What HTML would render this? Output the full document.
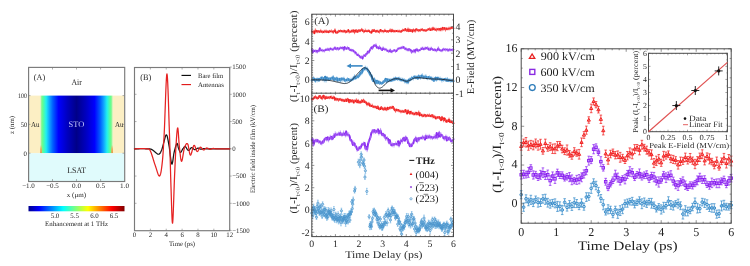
<!DOCTYPE html><html><head><meta charset="utf-8"><style>html,body{margin:0;padding:0;background:#fff;overflow:hidden;}svg{display:block;will-change:transform;}text{font-family:"Liberation Serif", serif;text-rendering:geometricPrecision;}</style></head><body>
<svg width="750" height="266" viewBox="0 0 750 266">
<defs>
<linearGradient id="heat" x1="0" x2="1" y1="0" y2="0"><stop offset="0.000" stop-color="#b8f0a0"/><stop offset="0.030" stop-color="#60ff90"/><stop offset="0.078" stop-color="#20f0f0"/><stop offset="0.125" stop-color="#10a0ff"/><stop offset="0.170" stop-color="#0060ff"/><stop offset="0.250" stop-color="#0000ff"/><stop offset="0.370" stop-color="#0000c0"/><stop offset="0.500" stop-color="#000088"/><stop offset="0.630" stop-color="#0000c0"/><stop offset="0.750" stop-color="#0000ff"/><stop offset="0.830" stop-color="#0060ff"/><stop offset="0.875" stop-color="#10a0ff"/><stop offset="0.922" stop-color="#20f0f0"/><stop offset="0.970" stop-color="#60ff90"/><stop offset="1.000" stop-color="#b8f0a0"/></linearGradient>
<linearGradient id="jet" x1="0" x2="1" y1="0" y2="0">
<stop offset="0" stop-color="#00008f"/><stop offset="0.11" stop-color="#0000ff"/><stop offset="0.36" stop-color="#00ffff"/>
<stop offset="0.62" stop-color="#ffff00"/><stop offset="0.87" stop-color="#ff0000"/><stop offset="1" stop-color="#800000"/>
</linearGradient>
</defs>
<rect x="28.5" y="95.6" width="12" height="57.6" fill="#fcefc4"/>
<rect x="112.6" y="95.6" width="12" height="57.6" fill="#fcefc4"/>
<rect x="40.5" y="95.6" width="72.1" height="57.6" fill="url(#heat)"/>
<linearGradient id="org" x1="0" x2="0" y1="0" y2="1"><stop offset="0" stop-color="#f0a050" stop-opacity="0"/><stop offset="0.5" stop-color="#f0a050" stop-opacity="0.9"/><stop offset="1" stop-color="#e89040"/></linearGradient>
<rect x="40.2" y="145" width="1.6" height="8.2" fill="url(#org)"/>
<rect x="111.3" y="145" width="1.6" height="8.2" fill="url(#org)"/>
<rect x="28.5" y="153.2" width="96" height="28.3" fill="#e0fbfc"/>
<rect x="28.6" y="67.4" width="96.1" height="114.1" fill="none" stroke="#7a7a7a" stroke-width="1.15"/>
<line x1="52.5" y1="67.5" x2="52.5" y2="69.5" stroke="#7a7a7a" stroke-width="0.6"/>
<line x1="52.5" y1="181" x2="52.5" y2="179" stroke="#7a7a7a" stroke-width="0.6"/>
<line x1="76.5" y1="67.5" x2="76.5" y2="69.5" stroke="#7a7a7a" stroke-width="0.6"/>
<line x1="76.5" y1="181" x2="76.5" y2="179" stroke="#7a7a7a" stroke-width="0.6"/>
<line x1="100.6" y1="67.5" x2="100.6" y2="69.5" stroke="#7a7a7a" stroke-width="0.6"/>
<line x1="100.6" y1="181" x2="100.6" y2="179" stroke="#7a7a7a" stroke-width="0.6"/>
<line x1="28.5" y1="95.6" x2="30.5" y2="95.6" stroke="#7a7a7a" stroke-width="0.6"/>
<line x1="124.5" y1="95.6" x2="122.5" y2="95.6" stroke="#7a7a7a" stroke-width="0.6"/>
<line x1="28.5" y1="124.4" x2="30.5" y2="124.4" stroke="#7a7a7a" stroke-width="0.6"/>
<line x1="124.5" y1="124.4" x2="122.5" y2="124.4" stroke="#7a7a7a" stroke-width="0.6"/>
<line x1="28.5" y1="153.2" x2="30.5" y2="153.2" stroke="#7a7a7a" stroke-width="0.6"/>
<line x1="124.5" y1="153.2" x2="122.5" y2="153.2" stroke="#7a7a7a" stroke-width="0.6"/>
<text x="39.5" y="79.8" font-size="8.5" text-anchor="middle" fill="#262626" textLength="11.3" lengthAdjust="spacingAndGlyphs" >(A)</text>
<text x="76.6" y="85.2" font-size="8.5" text-anchor="middle" fill="#262626" textLength="10.4" lengthAdjust="spacingAndGlyphs" >Air</text>
<text x="76.4" y="127.2" font-size="8.5" text-anchor="middle" fill="#c4c8ff" textLength="15.6" lengthAdjust="spacingAndGlyphs" >STO</text>
<text x="35.2" y="127" font-size="7.5" text-anchor="middle" fill="#262626" textLength="8.5" lengthAdjust="spacingAndGlyphs" >Au</text>
<text x="119.2" y="127" font-size="7.5" text-anchor="middle" fill="#262626" textLength="8.5" lengthAdjust="spacingAndGlyphs" >Au</text>
<text x="76.7" y="173.4" font-size="8.5" text-anchor="middle" fill="#262626" textLength="18.8" lengthAdjust="spacingAndGlyphs" >LSAT</text>
<text x="26.9" y="97.9" font-size="6.8" text-anchor="end" fill="#262626" textLength="9.0" lengthAdjust="spacingAndGlyphs" >100</text>
<text x="27.3" y="126.6" font-size="6.8" text-anchor="end" fill="#262626" textLength="6.6" lengthAdjust="spacingAndGlyphs" >50</text>
<text x="26.9" y="155.5" font-size="6.8" text-anchor="end" fill="#262626" >0</text>
<text x="14.2" y="125" font-size="6.8" text-anchor="middle" fill="#262626" textLength="18" lengthAdjust="spacingAndGlyphs" transform="rotate(-90 14.2 125)" >z (nm)</text>
<text x="28.5" y="188.4" font-size="6.8" text-anchor="middle" fill="#262626" textLength="12.7" lengthAdjust="spacingAndGlyphs" >−1.0</text>
<text x="52.5" y="188.4" font-size="6.8" text-anchor="middle" fill="#262626" textLength="12.7" lengthAdjust="spacingAndGlyphs" >−0.5</text>
<text x="76.5" y="188.4" font-size="6.8" text-anchor="middle" fill="#262626" textLength="9" lengthAdjust="spacingAndGlyphs" >0.0</text>
<text x="100.6" y="188.4" font-size="6.8" text-anchor="middle" fill="#262626" textLength="9" lengthAdjust="spacingAndGlyphs" >0.5</text>
<text x="124.6" y="188.4" font-size="6.8" text-anchor="middle" fill="#262626" textLength="9" lengthAdjust="spacingAndGlyphs" >1.0</text>
<text x="76.4" y="196.5" font-size="6.8" text-anchor="middle" fill="#262626" textLength="19.4" lengthAdjust="spacingAndGlyphs" >x (μm)</text>
<rect x="28.5" y="206" width="96" height="5.3" fill="url(#jet)"/>
<text x="55" y="217.8" font-size="6.8" text-anchor="middle" fill="#262626" textLength="8.6" lengthAdjust="spacingAndGlyphs" >5.0</text>
<text x="74.6" y="217.8" font-size="6.8" text-anchor="middle" fill="#262626" textLength="8.6" lengthAdjust="spacingAndGlyphs" >5.5</text>
<text x="94.5" y="217.8" font-size="6.8" text-anchor="middle" fill="#262626" textLength="8.6" lengthAdjust="spacingAndGlyphs" >6.0</text>
<text x="114" y="217.8" font-size="6.8" text-anchor="middle" fill="#262626" textLength="8.6" lengthAdjust="spacingAndGlyphs" >6.5</text>
<text x="76.6" y="225.8" font-size="6.8" text-anchor="middle" fill="#262626" textLength="63" lengthAdjust="spacingAndGlyphs" >Enhancement at 1 THz</text>
<rect x="134.5" y="67.5" width="95.2" height="163.2" fill="none" stroke="#7a7a7a" stroke-width="1.15"/>
<line x1="134.50" y1="230.7" x2="134.50" y2="228.7" stroke="#7a7a7a" stroke-width="0.6"/>
<line x1="134.50" y1="67.5" x2="134.50" y2="69.5" stroke="#7a7a7a" stroke-width="0.6"/>
<text x="134.5" y="237.2" font-size="6.8" text-anchor="middle" fill="#262626" >0</text>
<line x1="150.37" y1="230.7" x2="150.37" y2="228.7" stroke="#7a7a7a" stroke-width="0.6"/>
<line x1="150.37" y1="67.5" x2="150.37" y2="69.5" stroke="#7a7a7a" stroke-width="0.6"/>
<text x="150.37" y="237.2" font-size="6.8" text-anchor="middle" fill="#262626" >2</text>
<line x1="166.23" y1="230.7" x2="166.23" y2="228.7" stroke="#7a7a7a" stroke-width="0.6"/>
<line x1="166.23" y1="67.5" x2="166.23" y2="69.5" stroke="#7a7a7a" stroke-width="0.6"/>
<text x="166.23" y="237.2" font-size="6.8" text-anchor="middle" fill="#262626" >4</text>
<line x1="182.10" y1="230.7" x2="182.10" y2="228.7" stroke="#7a7a7a" stroke-width="0.6"/>
<line x1="182.10" y1="67.5" x2="182.10" y2="69.5" stroke="#7a7a7a" stroke-width="0.6"/>
<text x="182.1" y="237.2" font-size="6.8" text-anchor="middle" fill="#262626" >6</text>
<line x1="197.97" y1="230.7" x2="197.97" y2="228.7" stroke="#7a7a7a" stroke-width="0.6"/>
<line x1="197.97" y1="67.5" x2="197.97" y2="69.5" stroke="#7a7a7a" stroke-width="0.6"/>
<text x="197.97" y="237.2" font-size="6.8" text-anchor="middle" fill="#262626" >8</text>
<line x1="213.83" y1="230.7" x2="213.83" y2="228.7" stroke="#7a7a7a" stroke-width="0.6"/>
<line x1="213.83" y1="67.5" x2="213.83" y2="69.5" stroke="#7a7a7a" stroke-width="0.6"/>
<text x="213.83" y="237.2" font-size="6.8" text-anchor="middle" fill="#262626" >10</text>
<line x1="229.70" y1="230.7" x2="229.70" y2="228.7" stroke="#7a7a7a" stroke-width="0.6"/>
<line x1="229.70" y1="67.5" x2="229.70" y2="69.5" stroke="#7a7a7a" stroke-width="0.6"/>
<text x="229.7" y="237.2" font-size="6.8" text-anchor="middle" fill="#262626" >12</text>
<line x1="229.7" y1="67.05" x2="231.7" y2="67.05" stroke="#7a7a7a" stroke-width="0.6"/>
<text x="232.2" y="69.35" font-size="6.8" text-anchor="start" fill="#262626" >1500</text>
<line x1="229.7" y1="94.30" x2="231.7" y2="94.30" stroke="#7a7a7a" stroke-width="0.6"/>
<line x1="134.5" y1="94.30" x2="136.5" y2="94.30" stroke="#7a7a7a" stroke-width="0.6"/>
<text x="232.2" y="96.6" font-size="6.8" text-anchor="start" fill="#262626" >1000</text>
<line x1="229.7" y1="121.55" x2="231.7" y2="121.55" stroke="#7a7a7a" stroke-width="0.6"/>
<line x1="134.5" y1="121.55" x2="136.5" y2="121.55" stroke="#7a7a7a" stroke-width="0.6"/>
<text x="232.2" y="123.85" font-size="6.8" text-anchor="start" fill="#262626" >500</text>
<line x1="229.7" y1="148.80" x2="231.7" y2="148.80" stroke="#7a7a7a" stroke-width="0.6"/>
<line x1="134.5" y1="148.80" x2="136.5" y2="148.80" stroke="#7a7a7a" stroke-width="0.6"/>
<text x="232.2" y="151.1" font-size="6.8" text-anchor="start" fill="#262626" >0</text>
<line x1="229.7" y1="176.05" x2="231.7" y2="176.05" stroke="#7a7a7a" stroke-width="0.6"/>
<line x1="134.5" y1="176.05" x2="136.5" y2="176.05" stroke="#7a7a7a" stroke-width="0.6"/>
<text x="232.2" y="178.35" font-size="6.8" text-anchor="start" fill="#262626" >−500</text>
<line x1="229.7" y1="203.30" x2="231.7" y2="203.30" stroke="#7a7a7a" stroke-width="0.6"/>
<line x1="134.5" y1="203.30" x2="136.5" y2="203.30" stroke="#7a7a7a" stroke-width="0.6"/>
<text x="232.2" y="205.6" font-size="6.8" text-anchor="start" fill="#262626" >−1000</text>
<line x1="229.7" y1="230.55" x2="231.7" y2="230.55" stroke="#7a7a7a" stroke-width="0.6"/>
<text x="232.2" y="232.85" font-size="6.8" text-anchor="start" fill="#262626" >−1500</text>
<text x="182" y="245.6" font-size="6.8" text-anchor="middle" fill="#262626" textLength="26" lengthAdjust="spacingAndGlyphs" >Time (ps)</text>
<text x="255.3" y="149" font-size="6.8" text-anchor="middle" fill="#262626" textLength="88" lengthAdjust="spacingAndGlyphs" transform="rotate(-90 255.3 149)" >Electric field inside film (kV/cm)</text>
<text x="145.8" y="79.8" font-size="8.5" text-anchor="middle" fill="#262626" textLength="11" lengthAdjust="spacingAndGlyphs" >(B)</text>
<line x1="181.5" y1="75.4" x2="191" y2="75.4" stroke="#000" stroke-width="1.1"/>
<line x1="181.5" y1="84.6" x2="191" y2="84.6" stroke="#e01010" stroke-width="1.1"/>
<text x="198" y="78" font-size="6.8" text-anchor="start" fill="#262626" textLength="25.2" lengthAdjust="spacingAndGlyphs" >Bare film</text>
<text x="198" y="87.2" font-size="6.8" text-anchor="start" fill="#262626" textLength="25.8" lengthAdjust="spacingAndGlyphs" >Antennas</text>
<polyline points="134.50,148.80 135.24,148.80 136.22,148.79 137.40,148.77 138.71,148.76 140.10,148.75 141.53,148.74 142.92,148.74 144.24,148.75 145.41,148.77 146.40,148.80 147.21,148.83 147.90,148.85 148.51,148.86 149.04,148.89 149.52,148.92 149.98,148.98 150.43,149.07 150.89,149.20 151.39,149.38 151.95,149.62 152.57,149.96 153.22,150.44 153.90,150.99 154.59,151.60 155.28,152.22 155.95,152.82 156.60,153.36 157.22,153.80 157.79,154.11 158.30,154.25 158.75,154.23 159.15,154.10 159.51,153.86 159.84,153.54 160.13,153.14 160.41,152.68 160.68,152.17 160.94,151.61 161.20,151.03 161.47,150.44 161.74,149.79 162.00,149.07 162.24,148.28 162.47,147.44 162.70,146.58 162.92,145.69 163.15,144.80 163.37,143.92 163.61,143.07 163.85,142.26 164.11,141.40 164.36,140.43 164.62,139.39 164.89,138.35 165.15,137.34 165.42,136.44 165.68,135.67 165.95,135.11 166.21,134.80 166.47,134.79 166.73,135.09 166.98,135.65 167.23,136.43 167.48,137.40 167.73,138.53 167.98,139.80 168.23,141.16 168.49,142.59 168.75,144.06 169.01,145.53 169.28,147.21 169.56,149.23 169.84,151.49 170.12,153.87 170.41,156.25 170.69,158.51 170.98,160.54 171.25,162.23 171.52,163.46 171.79,164.11 172.04,164.13 172.28,163.61 172.52,162.64 172.75,161.33 172.98,159.79 173.21,158.11 173.44,156.39 173.67,154.75 173.91,153.27 174.17,152.07 174.43,151.01 174.72,149.92 175.01,148.83 175.31,147.76 175.60,146.74 175.90,145.81 176.19,144.99 176.46,144.32 176.71,143.81 176.94,143.51 177.15,143.45 177.33,143.62 177.49,143.98 177.64,144.48 177.79,145.09 177.92,145.76 178.06,146.46 178.21,147.13 178.36,147.75 178.53,148.26 178.71,148.73 178.89,149.25 179.08,149.79 179.28,150.33 179.47,150.85 179.67,151.33 179.88,151.74 180.08,152.07 180.30,152.30 180.51,152.40 180.74,152.34 180.96,152.15 181.20,151.84 181.44,151.45 181.68,150.99 181.92,150.51 182.17,150.02 182.41,149.55 182.65,149.14 182.89,148.80 183.13,148.50 183.36,148.18 183.58,147.85 183.81,147.54 184.03,147.25 184.26,146.99 184.50,146.79 184.75,146.65 185.00,146.59 185.27,146.62 185.56,146.79 185.86,147.11 186.17,147.53 186.49,148.03 186.81,148.57 187.14,149.10 187.47,149.59 187.80,150.00 188.13,150.30 188.45,150.44 188.76,150.40 189.08,150.22 189.40,149.92 189.72,149.54 190.03,149.13 190.35,148.70 190.67,148.30 190.99,147.96 191.30,147.72 191.62,147.60 191.94,147.63 192.25,147.76 192.57,147.98 192.89,148.25 193.21,148.55 193.52,148.87 193.84,149.16 194.16,149.41 194.48,149.59 194.79,149.67 195.11,149.65 195.43,149.56 195.75,149.40 196.06,149.20 196.38,148.97 196.70,148.74 197.01,148.52 197.33,148.34 197.65,148.21 197.97,148.15 198.28,148.16 198.60,148.23 198.92,148.34 199.24,148.48 199.55,148.64 199.87,148.80 200.19,148.96 200.51,149.09 200.82,149.19 201.14,149.24 201.46,149.23 201.77,149.19 202.09,149.12 202.41,149.04 202.73,148.93 203.04,148.83 203.36,148.72 203.68,148.64 204.00,148.57 204.31,148.53 204.54,148.52 204.64,148.52 204.67,148.55 204.67,148.58 204.71,148.62 204.85,148.66 205.14,148.71 205.63,148.75 206.40,148.78 207.49,148.80 209.04,148.81 211.07,148.82 213.45,148.82 216.07,148.82 218.79,148.82 221.50,148.81 224.07,148.81 226.37,148.80 228.29,148.80 229.70,148.80" fill="none" stroke="#151515" stroke-width="1.25" stroke-linejoin="round" stroke-linecap="round" />
<polyline points="134.50,148.80 135.24,148.79 136.25,148.77 137.45,148.73 138.78,148.70 140.20,148.66 141.64,148.64 143.04,148.64 144.34,148.66 145.48,148.71 146.40,148.80 147.11,148.88 147.69,148.90 148.15,148.92 148.52,148.94 148.83,149.00 149.10,149.14 149.37,149.38 149.65,149.74 149.97,150.27 150.37,150.98 150.81,151.93 151.27,153.10 151.75,154.45 152.23,155.94 152.72,157.52 153.21,159.14 153.70,160.76 154.19,162.33 154.66,163.81 155.13,165.15 155.59,166.48 156.05,167.93 156.51,169.43 156.98,170.92 157.43,172.34 157.88,173.61 158.31,174.69 158.73,175.49 159.12,175.97 159.49,176.05 159.84,175.75 160.16,175.16 160.46,174.28 160.75,173.15 161.03,171.79 161.29,170.23 161.54,168.49 161.79,166.59 162.03,164.56 162.27,162.43 162.49,160.22 162.70,157.93 162.90,155.53 163.08,152.98 163.26,150.24 163.44,147.28 163.63,144.06 163.82,140.53 164.03,136.68 164.25,132.45 164.49,127.23 164.75,120.70 165.01,113.30 165.29,105.47 165.57,97.65 165.85,90.27 166.13,83.77 166.41,78.59 166.68,75.16 166.95,73.92 167.21,75.05 167.47,78.20 167.73,83.00 167.99,89.10 168.25,96.12 168.50,103.71 168.74,111.50 168.97,119.13 169.20,126.23 169.41,132.45 169.60,138.15 169.78,143.90 169.95,149.67 170.10,155.42 170.25,161.09 170.40,166.66 170.54,172.07 170.69,177.28 170.84,182.26 170.99,186.95 171.15,191.69 171.30,196.70 171.46,201.79 171.61,206.76 171.76,211.42 171.92,215.58 172.07,219.02 172.24,221.57 172.41,223.03 172.58,223.19 172.76,221.79 172.96,218.87 173.16,214.72 173.36,209.65 173.57,203.93 173.78,197.87 173.98,191.76 174.19,185.89 174.38,180.55 174.56,176.05 174.74,172.12 174.91,168.31 175.07,164.63 175.23,161.10 175.38,157.72 175.53,154.49 175.69,151.44 175.84,148.55 175.99,145.86 176.15,143.35 176.31,140.96 176.47,138.62 176.63,136.40 176.78,134.33 176.94,132.46 177.10,130.85 177.26,129.54 177.42,128.59 177.58,128.03 177.74,127.93 177.89,128.39 178.04,129.45 178.19,130.99 178.34,132.91 178.49,135.08 178.64,137.41 178.80,139.79 178.97,142.09 179.14,144.23 179.32,146.08 179.52,147.85 179.72,149.77 179.92,151.78 180.13,153.77 180.35,155.69 180.57,157.45 180.81,158.97 181.04,160.18 181.29,160.99 181.54,161.34 181.81,161.10 182.08,160.30 182.37,159.06 182.66,157.49 182.95,155.71 183.25,153.84 183.56,151.99 183.87,150.27 184.17,148.81 184.48,147.71 184.79,146.86 185.11,146.08 185.43,145.37 185.75,144.75 186.08,144.25 186.40,143.86 186.72,143.62 187.04,143.53 187.35,143.62 187.65,143.90 187.94,144.51 188.22,145.52 188.49,146.84 188.75,148.34 189.02,149.91 189.28,151.46 189.55,152.87 189.83,154.03 190.12,154.84 190.43,155.18 190.76,154.97 191.10,154.30 191.46,153.26 191.82,151.98 192.19,150.56 192.56,149.12 192.93,147.76 193.30,146.59 193.66,145.74 194.00,145.31 194.33,145.33 194.66,145.69 194.98,146.33 195.30,147.15 195.61,148.07 195.92,149.03 196.23,149.93 196.55,150.70 196.86,151.26 197.17,151.53 197.49,151.48 197.81,151.21 198.13,150.77 198.44,150.20 198.76,149.56 199.08,148.90 199.39,148.28 199.71,147.75 200.03,147.36 200.35,147.17 200.66,147.18 200.98,147.35 201.30,147.64 201.62,148.01 201.93,148.44 202.25,148.87 202.57,149.28 202.89,149.63 203.20,149.88 203.52,150.00 203.84,149.98 204.15,149.85 204.47,149.64 204.79,149.38 205.11,149.08 205.42,148.78 205.74,148.49 206.06,148.25 206.38,148.07 206.69,147.98 207.01,147.99 207.33,148.07 207.65,148.21 207.96,148.39 208.28,148.59 208.60,148.80 208.91,148.99 209.23,149.16 209.55,149.28 209.87,149.34 210.18,149.34 210.50,149.29 210.82,149.21 211.14,149.10 211.45,148.97 211.77,148.84 212.09,148.72 212.41,148.61 212.72,148.52 213.04,148.47 213.31,148.46 213.51,148.47 213.67,148.49 213.81,148.53 213.98,148.58 214.20,148.64 214.50,148.69 214.92,148.74 215.48,148.78 216.21,148.80 217.20,148.81 218.47,148.82 219.93,148.82 221.51,148.82 223.15,148.82 224.78,148.82 226.32,148.81 227.70,148.81 228.85,148.80 229.70,148.80" fill="none" stroke="#e62222" stroke-width="1.25" stroke-linejoin="round" stroke-linecap="round" />
<polyline points="311.80,31.42 312.69,31.90 313.58,31.83 314.47,33.21 315.36,30.34 316.26,30.79 317.15,31.79 318.04,31.05 318.93,31.38 319.82,31.95 320.71,30.92 321.60,31.79 322.49,31.80 323.39,32.12 324.28,31.28 325.17,31.65 326.06,31.22 326.95,32.00 327.84,31.50 328.73,32.19 329.62,31.01 330.52,31.45 331.41,31.35 332.30,31.30 333.19,32.25 334.08,31.03 334.97,30.16 335.86,32.65 336.75,32.70 337.64,32.54 338.54,30.94 339.43,31.40 340.32,30.74 341.21,30.97 342.10,31.29 342.99,31.22 343.88,31.51 344.77,30.78 345.67,32.11 346.56,31.61 347.45,31.14 348.34,30.06 349.23,31.77 350.12,31.96 351.01,31.59 351.90,30.54 352.79,31.33 353.69,30.26 354.58,32.40 355.47,30.36 356.36,30.40 357.25,32.05 358.14,30.97 359.03,30.25 359.92,31.00 360.82,30.38 361.71,29.44 362.60,30.86 363.49,31.23 364.38,31.57 365.27,30.61 366.16,31.18 367.05,31.17 367.95,31.12 368.84,30.62 369.73,31.78 370.62,32.10 371.51,32.71 372.40,30.27 373.29,31.03 374.18,30.06 375.07,31.09 375.97,31.59 376.86,30.77 377.75,31.14 378.64,31.94 379.53,31.69 380.42,29.89 381.31,30.84 382.20,30.79 383.10,31.25 383.99,31.52 384.88,30.44 385.77,31.10 386.66,31.53 387.55,31.10 388.44,31.61 389.33,30.85 390.23,30.20 391.12,31.51 392.01,29.97 392.90,31.37 393.79,30.80 394.68,31.45 395.57,31.01 396.46,30.81 397.35,31.12 398.25,31.28 399.14,31.24 400.03,31.31 400.92,31.80 401.81,30.89 402.70,30.42 403.59,30.05 404.48,30.20 405.38,28.95 406.27,30.37 407.16,30.87 408.05,29.26 408.94,31.21 409.83,29.82 410.72,31.08 411.61,30.17 412.51,31.71 413.40,29.74 414.29,30.42 415.18,30.93 416.07,29.11 416.96,29.69 417.85,30.14 418.74,30.64 419.63,30.13 420.53,30.17 421.42,29.53 422.31,29.44 423.20,30.39 424.09,30.27 424.98,30.22 425.87,30.73 426.76,30.17 427.66,29.79 428.55,29.22 429.44,28.75 430.33,30.14 431.22,29.18 432.11,29.80 433.00,28.05 433.89,29.43 434.78,29.01 435.68,29.93 436.57,29.79 437.46,29.05 438.35,29.40 439.24,28.84 440.13,30.08 441.02,28.52 441.91,29.52 442.81,27.70 443.70,29.00 444.59,28.00 445.48,29.63 446.37,28.34 447.26,29.17 448.15,28.84 449.04,28.44 449.94,28.61 450.83,28.16 451.72,27.78 452.61,27.79 453.50,28.23" fill="none" stroke="#f01c1c" stroke-width="1.8" stroke-linejoin="round" stroke-linecap="round" />
<path d="M311.80 29.76V33.46M313.58 30.03V33.66M315.36 28.29V31.72M317.15 30.42V33.31M318.93 29.98V33.13M320.71 28.88V32.18M322.49 30.19V33.57M324.28 29.68V33.27M326.06 29.39V33.18M327.84 30.27V32.81M329.62 29.83V32.93M331.41 29.31V32.49M333.19 30.37V34.07M334.97 28.17V31.54M336.75 30.90V34.05M338.54 29.74V32.77M340.32 29.58V32.54M342.10 29.90V32.88M343.88 29.53V32.86M345.67 30.54V33.57M347.45 29.84V32.71M349.23 30.48V33.66M351.01 29.88V32.99M352.79 29.28V32.78M354.58 30.64V34.22M356.36 29.03V31.54M358.14 29.00V33.01M359.92 29.72V32.27M361.71 27.91V31.14M363.49 29.16V33.28M365.27 28.54V31.96M367.05 29.48V32.71M368.84 29.28V31.80M370.62 30.82V33.56M372.40 29.06V31.53M374.18 28.90V31.78M375.97 30.00V32.94M377.75 29.52V32.67M379.53 29.93V33.70M381.31 29.38V32.58M383.10 29.92V33.27M384.88 28.73V31.71M386.66 30.17V32.80M388.44 30.31V33.02M390.23 28.29V31.76M392.01 28.58V31.49M393.79 29.42V32.62M395.57 29.84V32.41M397.35 29.69V32.41M399.14 29.41V32.53M400.92 30.39V32.97M402.70 28.57V31.89M404.48 28.45V31.53M406.27 29.23V31.80M408.05 27.40V31.19M409.83 28.36V31.75M411.61 29.00V31.79M413.40 28.37V31.28M415.18 29.60V32.91M416.96 28.28V31.72M418.74 29.41V32.17M420.53 28.63V31.97M422.31 27.99V31.04M424.09 29.08V31.69M425.87 28.91V31.95M427.66 28.23V31.14M429.44 27.47V29.99M431.22 27.28V30.96M433.00 26.57V29.55M434.78 27.19V30.71M436.57 27.79V31.79M438.35 27.81V31.15M440.13 28.44V31.50M441.91 27.97V31.34M443.70 27.35V30.72M445.48 28.04V31.67M447.26 27.31V30.42M449.04 26.54V30.44M450.83 26.26V29.61M452.61 26.31V29.14" stroke="#f86060" stroke-width="0.7" fill="none"/>
<polyline points="311.80,49.47 312.69,52.52 313.58,50.45 314.47,51.06 315.36,50.93 316.26,50.71 317.15,51.88 318.04,50.61 318.93,50.98 319.82,48.09 320.71,50.13 321.60,50.46 322.49,50.34 323.39,50.54 324.28,50.73 325.17,50.22 326.06,49.55 326.95,49.96 327.84,49.07 328.73,49.76 329.62,49.52 330.52,48.40 331.41,48.99 332.30,49.60 333.19,49.29 334.08,48.70 334.97,47.66 335.86,49.06 336.75,48.94 337.64,48.01 338.54,49.19 339.43,48.70 340.32,47.82 341.21,47.92 342.10,48.11 342.99,47.56 343.88,49.75 344.77,47.02 345.67,48.33 346.56,48.92 347.45,47.84 348.34,47.90 349.23,49.12 350.12,50.06 351.01,49.88 351.90,50.53 352.79,50.16 353.69,51.23 354.58,52.21 355.47,52.17 356.36,53.73 357.25,55.01 358.14,54.82 359.03,55.60 359.92,56.78 360.82,57.56 361.71,56.98 362.60,58.59 363.49,55.92 364.38,55.35 365.27,55.93 366.16,53.83 367.05,53.53 367.95,51.37 368.84,52.34 369.73,50.68 370.62,48.57 371.51,47.20 372.40,48.40 373.29,46.41 374.18,45.31 375.07,45.92 375.97,45.20 376.86,47.77 377.75,47.16 378.64,48.43 379.53,47.09 380.42,48.37 381.31,48.91 382.20,50.12 383.10,48.12 383.99,49.03 384.88,49.30 385.77,49.30 386.66,50.08 387.55,50.96 388.44,51.26 389.33,51.40 390.23,50.01 391.12,51.94 392.01,51.31 392.90,51.02 393.79,50.49 394.68,50.05 395.57,51.05 396.46,51.14 397.35,49.73 398.25,48.53 399.14,48.36 400.03,48.22 400.92,48.12 401.81,47.39 402.70,47.63 403.59,47.04 404.48,48.52 405.38,48.45 406.27,49.25 407.16,49.43 408.05,50.17 408.94,48.97 409.83,49.87 410.72,49.93 411.61,52.29 412.51,51.05 413.40,51.09 414.29,50.16 415.18,51.89 416.07,49.39 416.96,49.31 417.85,50.79 418.74,50.47 419.63,50.24 420.53,49.55 421.42,49.03 422.31,47.96 423.20,49.36 424.09,48.61 424.98,48.94 425.87,47.79 426.76,48.43 427.66,48.00 428.55,49.68 429.44,49.17 430.33,49.71 431.22,48.29 432.11,49.01 433.00,49.80 433.89,50.02 434.78,49.47 435.68,50.33 436.57,50.51 437.46,49.57 438.35,48.23 439.24,50.04 440.13,50.23 441.02,50.63 441.91,50.71 442.81,49.43 443.70,49.18 444.59,49.71 445.48,49.46 446.37,49.57 447.26,49.52 448.15,50.60 449.04,49.84 449.94,49.42 450.83,49.99 451.72,49.75 452.61,49.96 453.50,49.63" fill="none" stroke="#8c2cf0" stroke-width="1.8" stroke-linejoin="round" stroke-linecap="round" />
<path d="M311.80 47.45V51.11M313.58 49.32V51.63M315.36 49.41V52.86M317.15 50.53V53.64M318.93 49.47V52.36M320.71 48.33V51.54M322.49 48.87V52.20M324.28 49.14V52.61M326.06 47.94V50.83M327.84 47.52V51.03M329.62 47.86V51.57M331.41 47.87V50.43M333.19 47.43V51.07M334.97 46.01V49.42M336.75 46.98V50.72M338.54 47.55V50.85M340.32 46.06V49.25M342.10 46.35V49.82M343.88 47.87V51.33M345.67 47.19V49.97M347.45 45.90V49.57M349.23 47.38V50.61M351.01 48.42V51.69M352.79 48.97V52.12M354.58 50.25V54.25M356.36 52.48V54.96M358.14 52.84V56.32M359.92 55.40V58.26M361.71 55.23V58.25M363.49 54.34V57.68M365.27 54.12V57.06M367.05 51.63V55.07M368.84 50.80V54.00M370.62 47.18V50.54M372.40 47.08V50.04M374.18 44.03V47.02M375.97 43.21V47.17M377.75 45.92V48.88M379.53 45.11V48.40M381.31 47.39V50.72M383.10 46.29V49.67M384.88 47.57V51.07M386.66 48.62V51.82M388.44 49.58V53.05M390.23 48.40V51.46M392.01 49.78V53.32M393.79 49.19V51.76M395.57 49.92V52.99M397.35 47.66V51.07M399.14 46.98V49.67M400.92 46.43V49.71M402.70 45.72V48.95M404.48 46.56V50.09M406.27 47.36V51.14M408.05 48.17V51.77M409.83 48.17V51.53M411.61 50.98V53.89M413.40 49.08V53.08M415.18 50.75V53.65M416.96 47.88V50.56M418.74 49.22V52.35M420.53 47.51V51.17M422.31 46.47V49.57M424.09 46.69V50.45M425.87 46.61V49.11M427.66 46.04V49.59M429.44 47.41V51.03M431.22 46.56V50.11M433.00 48.16V51.14M434.78 48.17V51.55M436.57 49.38V52.30M438.35 46.26V49.57M440.13 49.07V51.74M441.91 49.28V52.28M443.70 47.65V51.20M445.48 48.22V51.49M447.26 48.35V51.54M449.04 48.40V51.66M450.83 48.87V51.54M452.61 48.19V51.68" stroke="#b078f8" stroke-width="0.7" fill="none"/>
<polyline points="311.80,80.30 312.69,79.86 313.58,78.35 314.47,79.04 315.36,80.72 316.26,79.37 317.15,79.75 318.04,79.07 318.93,80.34 319.82,78.82 320.71,78.74 321.60,77.63 322.49,78.52 323.39,78.30 324.28,79.78 325.17,76.82 326.06,79.98 326.95,77.60 327.84,78.67 328.73,79.06 329.62,78.87 330.52,78.87 331.41,78.08 332.30,78.49 333.19,77.32 334.08,79.94 334.97,78.61 335.86,79.39 336.75,78.20 337.64,80.54 338.54,79.28 339.43,78.97 340.32,80.40 341.21,78.61 342.10,79.35 342.99,78.82 343.88,78.95 344.77,80.52 345.67,80.43 346.56,80.01 347.45,79.30 348.34,79.23 349.23,80.40 350.12,80.23 351.01,80.19 351.90,79.78 352.79,79.23 353.69,78.82 354.58,76.74 355.47,78.27 356.36,77.59 357.25,76.41 358.14,76.82 359.03,75.53 359.92,74.16 360.82,72.35 361.71,72.71 362.60,69.45 363.49,69.77 364.38,68.70 365.27,68.00 366.16,68.46 367.05,68.86 367.95,70.57 368.84,71.93 369.73,72.89 370.62,75.42 371.51,75.70 372.40,79.16 373.29,80.87 374.18,79.20 375.07,81.55 375.97,82.85 376.86,80.85 377.75,82.77 378.64,81.78 379.53,83.15 380.42,82.50 381.31,83.37 382.20,83.31 383.10,82.37 383.99,81.43 384.88,80.48 385.77,78.94 386.66,81.33 387.55,79.48 388.44,80.46 389.33,79.87 390.23,80.68 391.12,80.50 392.01,79.84 392.90,80.06 393.79,79.08 394.68,79.58 395.57,78.07 396.46,78.95 397.35,78.99 398.25,78.33 399.14,78.91 400.03,79.52 400.92,79.84 401.81,80.21 402.70,79.65 403.59,80.24 404.48,80.87 405.38,80.76 406.27,81.89 407.16,81.01 408.05,82.23 408.94,79.60 409.83,79.93 410.72,79.17 411.61,78.22 412.51,78.17 413.40,77.97 414.29,76.60 415.18,77.28 416.07,78.00 416.96,76.92 417.85,78.58 418.74,76.01 419.63,77.46 420.53,77.34 421.42,75.70 422.31,75.86 423.20,77.51 424.09,77.20 424.98,76.94 425.87,76.57 426.76,78.07 427.66,77.95 428.55,77.20 429.44,78.03 430.33,77.73 431.22,77.91 432.11,79.32 433.00,79.18 433.89,80.62 434.78,78.85 435.68,77.69 436.57,79.66 437.46,77.93 438.35,78.20 439.24,79.10 440.13,79.15 441.02,79.18 441.91,80.01 442.81,79.66 443.70,79.59 444.59,79.20 445.48,79.18 446.37,80.48 447.26,79.39 448.15,80.75 449.04,80.40 449.94,80.11 450.83,80.54 451.72,80.75 452.61,80.56 453.50,81.19" fill="none" stroke="#3684c0" stroke-width="2.3" stroke-linejoin="round" stroke-linecap="round" />
<path d="M311.80 78.46V82.04M313.58 76.38V80.66M315.36 78.27V82.88M317.15 77.41V82.32M318.93 78.14V81.84M320.71 76.59V80.17M322.49 76.31V81.12M324.28 77.79V82.30M326.06 78.56V82.54M327.84 77.06V81.07M329.62 77.11V80.74M331.41 76.52V79.52M333.19 75.01V79.61M334.97 77.06V80.76M336.75 76.49V80.67M338.54 77.72V81.39M340.32 77.93V82.45M342.10 77.15V81.72M343.88 76.70V81.34M345.67 78.76V82.92M347.45 77.30V81.80M349.23 78.17V82.69M351.01 77.65V81.72M352.79 76.79V80.98M354.58 74.36V78.41M356.36 75.63V79.15M358.14 74.46V78.58M359.92 72.19V76.51M361.71 70.86V75.17M363.49 67.76V72.30M365.27 65.68V70.60M367.05 66.61V70.64M368.84 69.89V74.46M370.62 72.91V77.12M372.40 77.45V80.86M374.18 77.05V80.83M375.97 80.60V84.63M377.75 80.36V84.46M379.53 80.64V84.95M381.31 81.93V84.97M383.10 79.99V83.98M384.88 78.78V83.07M386.66 79.43V83.50M388.44 78.41V82.42M390.23 78.20V82.12M392.01 77.98V81.78M393.79 76.85V81.35M395.57 76.67V79.59M397.35 77.31V80.79M399.14 76.59V81.20M400.92 77.33V81.72M402.70 77.75V81.22M404.48 78.39V83.34M406.27 79.34V84.17M408.05 79.77V84.31M409.83 77.52V81.72M411.61 75.91V80.53M413.40 75.83V80.38M415.18 75.07V78.98M416.96 75.46V78.71M418.74 74.37V78.49M420.53 75.30V79.62M422.31 73.35V78.21M424.09 74.76V79.28M425.87 74.26V79.12M427.66 76.03V80.20M429.44 75.48V79.72M431.22 76.42V79.89M433.00 76.71V81.20M434.78 77.21V81.44M436.57 77.70V81.59M438.35 76.71V80.11M440.13 76.58V81.08M441.91 77.67V82.52M443.70 78.19V81.82M445.48 77.60V81.19M447.26 76.97V81.22M449.04 78.14V82.15M450.83 78.43V82.82M452.61 78.51V82.35" stroke="#6aaee0" stroke-width="0.7" fill="none"/>
<polyline points="311.80,79.80 312.78,79.82 314.08,79.84 315.63,79.86 317.36,79.89 319.21,79.92 321.11,79.96 322.99,80.02 324.78,80.09 326.43,80.17 327.86,80.28 329.11,80.42 330.28,80.59 331.38,80.77 332.41,80.98 333.38,81.19 334.31,81.41 335.20,81.63 336.07,81.84 336.93,82.04 337.78,82.21 338.61,82.38 339.41,82.57 340.19,82.75 340.93,82.94 341.65,83.11 342.34,83.27 343.00,83.40 343.64,83.49 344.26,83.55 344.86,83.56 345.43,83.53 345.96,83.47 346.45,83.38 346.92,83.26 347.37,83.11 347.81,82.93 348.24,82.72 348.68,82.48 349.12,82.22 349.59,81.92 350.06,81.59 350.53,81.21 351.00,80.80 351.48,80.35 351.95,79.88 352.42,79.40 352.89,78.90 353.37,78.39 353.84,77.89 354.31,77.39 354.79,76.88 355.28,76.34 355.79,75.78 356.29,75.20 356.79,74.63 357.28,74.07 357.76,73.52 358.21,73.00 358.64,72.52 359.03,72.08 359.39,71.69 359.72,71.32 360.02,70.99 360.30,70.67 360.57,70.39 360.82,70.12 361.08,69.86 361.33,69.63 361.59,69.40 361.87,69.19 362.15,68.97 362.42,68.76 362.69,68.55 362.96,68.36 363.23,68.18 363.50,68.04 363.78,67.92 364.07,67.84 364.38,67.81 364.70,67.83 365.04,67.90 365.40,67.99 365.77,68.12 366.16,68.28 366.55,68.49 366.94,68.73 367.33,69.01 367.72,69.34 368.11,69.72 368.48,70.15 368.84,70.64 369.20,71.19 369.56,71.80 369.91,72.46 370.27,73.16 370.62,73.89 370.97,74.63 371.32,75.39 371.67,76.15 372.02,76.91 372.38,77.69 372.73,78.54 373.09,79.42 373.44,80.33 373.79,81.24 374.15,82.13 374.50,82.98 374.86,83.78 375.21,84.49 375.56,85.11 375.92,85.64 376.27,86.11 376.63,86.52 376.98,86.89 377.34,87.20 377.69,87.47 378.04,87.68 378.40,87.86 378.75,88.00 379.11,88.10 379.46,88.15 379.80,88.16 380.13,88.11 380.47,88.02 380.80,87.89 381.15,87.73 381.50,87.52 381.87,87.29 382.25,87.03 382.65,86.75 383.06,86.42 383.48,86.03 383.91,85.58 384.34,85.11 384.79,84.61 385.26,84.10 385.75,83.59 386.26,83.10 386.80,82.63 387.37,82.21 387.99,81.81 388.66,81.40 389.36,80.99 390.09,80.59 390.84,80.21 391.60,79.85 392.35,79.53 393.08,79.24 393.79,79.01 394.46,78.83 395.10,78.72 395.71,78.66 396.32,78.65 396.91,78.68 397.48,78.74 398.06,78.84 398.63,78.94 399.20,79.07 399.78,79.19 400.36,79.32 400.96,79.47 401.56,79.66 402.17,79.90 402.78,80.15 403.39,80.40 403.99,80.65 404.58,80.87 405.16,81.05 405.72,81.18 406.27,81.25 406.78,81.24 407.28,81.18 407.75,81.08 408.21,80.94 408.66,80.78 409.11,80.59 409.56,80.39 410.02,80.19 410.49,79.99 410.99,79.80 411.47,79.60 411.90,79.37 412.31,79.11 412.73,78.84 413.16,78.58 413.64,78.32 414.18,78.09 414.81,77.90 415.55,77.76 416.42,77.68 417.45,77.66 418.63,77.71 419.92,77.80 421.31,77.94 422.75,78.09 424.23,78.26 425.71,78.43 427.17,78.59 428.57,78.73 429.88,78.83 431.14,78.91 432.37,78.96 433.58,79.00 434.77,79.03 435.95,79.06 437.12,79.09 438.27,79.12 439.42,79.17 440.56,79.23 441.69,79.32 442.87,79.43 444.10,79.57 445.36,79.73 446.63,79.90 447.86,80.07 449.04,80.24 450.12,80.41 451.09,80.55 451.91,80.67 452.56,80.77" fill="none" stroke="#1e2a36" stroke-width="0.95" stroke-linejoin="round" stroke-linecap="round" />
<line x1="362.6" y1="65.9" x2="350" y2="65.9" stroke="#3a88c4" stroke-width="1.6"/><polygon points="346.5,65.9 351,63.6 351,68.2" fill="#3a88c4"/>
<line x1="378.6" y1="90.4" x2="391" y2="90.4" stroke="#111" stroke-width="1.6"/><polygon points="395,90.4 390.5,88.1 390.5,92.7" fill="#111"/>
<polyline points="311.80,98.88 312.69,99.27 313.58,98.23 314.47,97.54 315.36,96.81 316.26,97.64 317.15,98.14 318.04,98.26 318.93,96.81 319.82,95.94 320.71,97.08 321.60,98.36 322.49,98.05 323.39,95.71 324.28,96.91 325.17,98.60 326.06,97.11 326.95,98.07 327.84,97.61 328.73,97.54 329.62,97.82 330.52,96.80 331.41,97.49 332.30,98.13 333.19,97.43 334.08,97.26 334.97,99.68 335.86,98.66 336.75,99.51 337.64,98.99 338.54,100.16 339.43,99.15 340.32,99.34 341.21,99.70 342.10,100.47 342.99,99.99 343.88,100.71 344.77,101.04 345.67,99.73 346.56,101.01 347.45,99.06 348.34,99.55 349.23,102.06 350.12,100.13 351.01,101.44 351.90,100.52 352.79,100.61 353.69,102.53 354.58,101.07 355.47,101.21 356.36,100.25 357.25,102.28 358.14,100.70 359.03,102.47 359.92,101.92 360.82,102.52 361.71,100.64 362.60,101.61 363.49,100.16 364.38,102.00 365.27,102.10 366.16,102.46 367.05,104.22 367.95,104.29 368.84,103.57 369.73,105.63 370.62,105.53 371.51,106.05 372.40,105.76 373.29,106.86 374.18,106.88 375.07,106.73 375.97,107.05 376.86,108.09 377.75,106.70 378.64,108.82 379.53,108.89 380.42,109.11 381.31,107.24 382.20,108.55 383.10,109.21 383.99,109.46 384.88,108.15 385.77,109.49 386.66,109.59 387.55,107.68 388.44,108.95 389.33,107.83 390.23,107.39 391.12,107.81 392.01,107.65 392.90,106.70 393.79,108.72 394.68,109.79 395.57,110.71 396.46,109.65 397.35,110.15 398.25,109.93 399.14,110.86 400.03,111.11 400.92,111.54 401.81,111.56 402.70,111.13 403.59,111.79 404.48,111.53 405.38,110.08 406.27,111.50 407.16,113.49 408.05,110.69 408.94,112.07 409.83,113.37 410.72,111.88 411.61,112.82 412.51,113.54 413.40,113.71 414.29,114.19 415.18,113.43 416.07,112.69 416.96,114.10 417.85,113.60 418.74,112.47 419.63,115.40 420.53,114.26 421.42,114.93 422.31,115.77 423.20,115.91 424.09,115.19 424.98,114.96 425.87,116.00 426.76,115.65 427.66,115.24 428.55,115.80 429.44,115.47 430.33,116.02 431.22,116.19 432.11,115.18 433.00,116.44 433.89,117.07 434.78,116.75 435.68,118.39 436.57,118.07 437.46,117.26 438.35,117.60 439.24,116.98 440.13,118.56 441.02,120.08 441.91,117.24 442.81,118.22 443.70,120.36 444.59,118.41 445.48,119.85 446.37,121.74 447.26,120.76 448.15,121.12 449.04,119.53 449.94,121.95 450.83,121.78 451.72,122.11 452.61,122.51 453.50,123.29" fill="none" stroke="#f01c1c" stroke-width="2.0" stroke-linejoin="round" stroke-linecap="round" />
<path d="M311.80 97.67V100.64M313.58 96.54V100.03M315.36 94.88V98.54M317.15 96.38V99.83M318.93 95.00V98.26M320.71 95.33V98.96M322.49 96.67V100.25M324.28 94.96V99.08M326.06 95.62V98.75M327.84 96.15V98.85M329.62 96.61V99.26M331.41 95.42V98.85M333.19 95.53V98.87M334.97 98.42V101.06M336.75 97.63V101.21M338.54 98.41V101.81M340.32 97.87V101.03M342.10 98.34V101.87M343.88 98.78V102.16M345.67 98.34V101.25M347.45 97.78V101.20M349.23 100.50V103.43M351.01 100.25V102.69M352.79 99.20V102.23M354.58 99.27V103.26M356.36 98.15V101.69M358.14 98.88V102.83M359.92 100.62V103.98M361.71 99.05V102.63M363.49 98.64V101.99M365.27 100.39V103.39M367.05 102.25V106.25M368.84 101.89V105.16M370.62 103.37V107.10M372.40 103.67V107.37M374.18 105.31V108.44M375.97 105.80V108.52M377.75 105.27V107.95M379.53 107.15V110.53M381.31 106.03V108.59M383.10 107.09V110.54M384.88 106.58V110.31M386.66 108.29V111.20M388.44 106.94V110.16M390.23 106.13V109.53M392.01 105.76V109.11M393.79 107.04V110.16M395.57 108.61V112.87M397.35 108.89V111.87M399.14 109.48V112.46M400.92 109.60V113.46M402.70 109.75V112.66M404.48 109.90V113.11M406.27 109.62V113.50M408.05 109.16V112.33M409.83 112.12V114.94M411.61 110.66V114.52M413.40 111.95V115.52M415.18 111.66V115.44M416.96 112.65V115.61M418.74 110.38V114.17M420.53 112.09V115.59M422.31 113.78V117.44M424.09 113.51V117.27M425.87 114.67V117.71M427.66 113.79V116.78M429.44 113.45V117.07M431.22 114.20V117.39M433.00 114.23V118.61M434.78 114.87V118.14M436.57 116.21V119.45M438.35 116.03V118.83M440.13 117.30V119.91M441.91 115.87V119.29M443.70 118.92V122.39M445.48 118.65V121.10M447.26 119.51V122.90M449.04 117.51V120.74M450.83 119.64V123.20M452.61 121.05V124.30" stroke="#f86060" stroke-width="0.7" fill="none"/>
<polyline points="311.80,140.02 312.64,139.06 313.48,144.96 314.32,141.85 315.15,140.44 315.99,140.11 316.83,141.15 317.67,140.11 318.51,141.79 319.35,141.48 320.18,141.98 321.02,143.60 321.86,143.18 322.70,141.34 323.54,142.31 324.38,139.44 325.22,138.94 326.05,137.75 326.89,139.65 327.73,137.20 328.57,139.72 329.41,139.08 330.25,137.41 331.08,136.73 331.92,138.90 332.76,138.76 333.60,135.67 334.44,137.01 335.28,133.97 336.12,134.81 336.95,134.69 337.79,134.60 338.63,133.48 339.47,134.70 340.31,132.89 341.15,134.91 341.98,134.40 342.82,134.93 343.66,133.17 344.50,133.90 345.34,135.13 346.18,131.39 347.02,134.74 347.85,134.72 348.69,134.70 349.53,136.02 350.37,140.05 351.21,140.01 352.05,141.89 352.88,145.02 353.72,143.00 354.56,143.64 355.40,146.21 356.24,146.72 357.08,149.41 357.92,149.98 358.75,148.71 359.59,147.18 360.43,148.07 361.27,146.18 362.11,144.27 362.95,144.53 363.78,143.45 364.62,143.01 365.46,148.64 366.30,147.02 367.14,149.48 367.98,144.06 368.82,141.49 369.65,139.43 370.49,137.15 371.33,133.14 372.17,131.79 373.01,130.23 373.85,131.68 374.68,130.04 375.52,132.24 376.36,131.27 377.20,131.43 378.04,129.32 378.88,133.24 379.72,132.13 380.55,130.45 381.39,133.52 382.23,135.06 383.07,133.90 383.91,135.63 384.75,135.13 385.58,138.50 386.42,138.04 387.26,138.41 388.10,138.89 388.94,142.66 389.78,140.09 390.62,143.87 391.45,145.26 392.29,145.02 393.13,143.94 393.97,144.87 394.81,144.01 395.65,143.96 396.48,144.06 397.32,144.54 398.16,141.16 399.00,145.57 399.84,143.69 400.68,140.73 401.52,140.48 402.35,141.20 403.19,138.19 404.03,138.00 404.87,140.74 405.71,137.26 406.55,137.92 407.38,139.42 408.22,143.18 409.06,143.61 409.90,146.31 410.74,145.05 411.58,146.07 412.42,143.77 413.25,143.41 414.09,140.13 414.93,139.25 415.77,137.92 416.61,141.27 417.45,141.29 418.28,138.13 419.12,139.33 419.96,137.94 420.80,138.03 421.64,138.15 422.48,137.14 423.32,137.61 424.15,137.70 424.99,139.50 425.83,135.96 426.67,138.03 427.51,136.63 428.35,137.56 429.18,136.15 430.02,137.47 430.86,137.19 431.70,137.10 432.54,138.03 433.38,137.64 434.22,136.88 435.05,136.64 435.89,137.62 436.73,132.99 437.57,137.32 438.41,136.31 439.25,132.55 440.08,136.67 440.92,134.78 441.76,135.01 442.60,136.34 443.44,138.20 444.28,138.65 445.12,136.91 445.95,136.70 446.79,140.55 447.63,137.90 448.47,139.43 449.31,137.83 450.15,139.28 450.98,141.08 451.82,141.06 452.66,140.81 453.50,139.06" fill="none" stroke="#8c2cf0" stroke-width="2.0" stroke-linejoin="round" stroke-linecap="round" />
<path d="M311.80 137.45V141.71M313.48 143.16V146.74M315.15 138.79V142.75M316.83 138.62V142.82M318.51 140.07V143.77M320.18 140.13V144.25M321.86 141.57V145.39M323.54 140.21V143.93M325.22 136.91V140.89M326.89 138.09V141.53M328.57 137.44V142.29M330.25 134.74V139.80M331.92 136.91V140.56M333.60 133.33V137.86M335.28 131.42V135.77M336.95 132.39V136.28M338.63 131.62V135.50M340.31 130.40V134.79M341.98 132.15V137.11M343.66 130.50V135.24M345.34 133.40V137.38M347.02 132.27V136.95M348.69 132.28V136.43M350.37 138.22V141.72M352.05 140.35V143.94M353.72 140.55V144.94M355.40 143.54V148.12M357.08 147.46V151.95M358.75 146.41V150.86M360.43 146.30V149.65M362.11 142.59V145.95M363.78 141.45V145.34M365.46 146.48V150.44M367.14 147.15V152.14M368.82 138.99V143.69M370.49 135.36V139.62M372.17 129.27V133.38M373.85 129.14V134.31M375.52 130.51V133.94M377.20 129.04V133.50M378.88 131.68V135.48M380.55 127.94V132.84M382.23 133.52V136.58M383.91 133.51V137.93M385.58 135.87V140.87M387.26 136.09V140.98M388.94 140.68V144.35M390.62 142.26V145.79M392.29 142.46V147.18M393.97 143.35V147.48M395.65 141.45V145.50M397.32 142.08V146.24M399.00 144.04V147.54M400.68 138.37V142.54M402.35 139.18V143.73M404.03 136.38V140.28M405.71 135.39V138.81M407.38 136.99V141.74M409.06 141.56V145.67M410.74 143.09V147.38M412.42 142.29V145.38M414.09 138.55V141.73M415.77 135.75V139.91M417.45 138.99V143.42M419.12 136.87V141.68M420.80 136.51V139.61M422.48 134.84V139.69M424.15 135.19V139.29M425.83 133.73V137.62M427.51 134.78V139.17M429.18 133.89V138.67M430.86 134.96V139.80M432.54 136.21V140.10M434.22 134.23V139.31M435.89 136.09V139.36M437.57 135.38V139.60M439.25 130.72V135.08M440.92 132.30V136.78M442.60 134.55V138.10M444.28 136.89V140.74M445.95 134.55V139.30M447.63 135.80V140.07M449.31 136.08V140.54M450.98 139.01V142.74M452.66 138.97V143.20" stroke="#b078f8" stroke-width="0.7" fill="none"/>
<path d="M311.80 210.46V215.67M311.00 210.46h1.6M311.00 215.67h1.6M312.27 207.26V212.42M311.47 207.26h1.6M311.47 212.42h1.6M312.74 212.78V218.82M311.94 212.78h1.6M311.94 218.82h1.6M313.21 205.89V211.35M312.41 205.89h1.6M312.41 211.35h1.6M313.68 204.15V210.12M312.88 204.15h1.6M312.88 210.12h1.6M314.15 209.71V214.60M313.35 209.71h1.6M313.35 214.60h1.6M314.62 206.77V212.10M313.82 206.77h1.6M313.82 212.10h1.6M315.09 207.25V212.81M314.29 207.25h1.6M314.29 212.81h1.6M315.56 209.80V214.37M314.76 209.80h1.6M314.76 214.37h1.6M316.03 210.67V216.50M315.23 210.67h1.6M315.23 216.50h1.6M316.50 215.09V219.46M315.70 215.09h1.6M315.70 219.46h1.6M316.97 204.40V208.72M316.17 204.40h1.6M316.17 208.72h1.6M317.44 208.83V213.47M316.64 208.83h1.6M316.64 213.47h1.6M317.91 200.19V206.14M317.11 200.19h1.6M317.11 206.14h1.6M318.38 205.93V211.07M317.58 205.93h1.6M317.58 211.07h1.6M318.86 208.20V212.29M318.06 208.20h1.6M318.06 212.29h1.6M319.33 210.98V215.46M318.53 210.98h1.6M318.53 215.46h1.6M319.80 204.20V209.56M319.00 204.20h1.6M319.00 209.56h1.6M320.27 210.79V214.94M319.47 210.79h1.6M319.47 214.94h1.6M320.74 204.06V208.82M319.94 204.06h1.6M319.94 208.82h1.6M321.21 210.39V214.90M320.41 210.39h1.6M320.41 214.90h1.6M321.68 208.05V213.71M320.88 208.05h1.6M320.88 213.71h1.6M322.15 214.10V218.45M321.35 214.10h1.6M321.35 218.45h1.6M322.62 201.82V206.71M321.82 201.82h1.6M321.82 206.71h1.6M323.09 209.39V214.47M322.29 209.39h1.6M322.29 214.47h1.6M323.56 209.82V215.98M322.76 209.82h1.6M322.76 215.98h1.6M324.03 206.74V211.71M323.23 206.74h1.6M323.23 211.71h1.6M324.50 212.43V216.76M323.70 212.43h1.6M323.70 216.76h1.6M324.97 206.97V211.98M324.17 206.97h1.6M324.17 211.98h1.6M325.44 213.14V218.03M324.64 213.14h1.6M324.64 218.03h1.6M325.91 207.60V212.97M325.11 207.60h1.6M325.11 212.97h1.6M326.38 213.16V217.46M325.58 213.16h1.6M325.58 217.46h1.6M326.85 215.33V220.35M326.05 215.33h1.6M326.05 220.35h1.6M327.32 211.23V216.80M326.52 211.23h1.6M326.52 216.80h1.6M327.79 214.30V219.28M326.99 214.30h1.6M326.99 219.28h1.6M328.26 207.58V213.85M327.46 207.58h1.6M327.46 213.85h1.6M328.73 210.18V215.05M327.93 210.18h1.6M327.93 215.05h1.6M329.20 208.29V214.39M328.40 208.29h1.6M328.40 214.39h1.6M329.67 210.49V215.29M328.87 210.49h1.6M328.87 215.29h1.6M330.14 212.05V217.01M329.34 212.05h1.6M329.34 217.01h1.6M330.61 210.73V216.42M329.81 210.73h1.6M329.81 216.42h1.6M331.08 207.98V213.27M330.28 207.98h1.6M330.28 213.27h1.6M331.55 211.61V217.85M330.75 211.61h1.6M330.75 217.85h1.6M332.02 213.72V219.84M331.22 213.72h1.6M331.22 219.84h1.6M332.50 215.33V220.02M331.70 215.33h1.6M331.70 220.02h1.6M332.97 213.20V217.97M332.17 213.20h1.6M332.17 217.97h1.6M333.44 214.70V220.25M332.64 214.70h1.6M332.64 220.25h1.6M333.91 206.56V212.46M333.11 206.56h1.6M333.11 212.46h1.6M334.38 217.17V221.44M333.58 217.17h1.6M333.58 221.44h1.6M334.85 216.16V222.34M334.05 216.16h1.6M334.05 222.34h1.6M335.32 214.65V219.50M334.52 214.65h1.6M334.52 219.50h1.6M335.79 212.16V216.51M334.99 212.16h1.6M334.99 216.51h1.6M336.26 215.13V219.76M335.46 215.13h1.6M335.46 219.76h1.6M336.73 216.89V222.80M335.93 216.89h1.6M335.93 222.80h1.6M337.20 217.31V221.92M336.40 217.31h1.6M336.40 221.92h1.6M337.67 216.30V220.58M336.87 216.30h1.6M336.87 220.58h1.6M338.14 211.83V217.27M337.34 211.83h1.6M337.34 217.27h1.6M338.61 217.79V223.98M337.81 217.79h1.6M337.81 223.98h1.6M339.08 215.99V220.74M338.28 215.99h1.6M338.28 220.74h1.6M339.55 217.45V222.68M338.75 217.45h1.6M338.75 222.68h1.6M340.02 214.69V219.63M339.22 214.69h1.6M339.22 219.63h1.6M340.49 213.82V220.08M339.69 213.82h1.6M339.69 220.08h1.6M340.96 219.75V225.82M340.16 219.75h1.6M340.16 225.82h1.6M341.43 208.19V213.36M340.63 208.19h1.6M340.63 213.36h1.6M341.90 214.48V220.83M341.10 214.48h1.6M341.10 220.83h1.6M342.37 217.59V222.12M341.57 217.59h1.6M341.57 222.12h1.6M342.84 218.57V223.58M342.04 218.57h1.6M342.04 223.58h1.6M343.31 216.43V221.79M342.51 216.43h1.6M342.51 221.79h1.6M343.78 215.30V221.14M342.98 215.30h1.6M342.98 221.14h1.6M344.25 213.64V219.33M343.45 213.64h1.6M343.45 219.33h1.6M344.72 215.84V220.84M343.92 215.84h1.6M343.92 220.84h1.6M345.19 213.61V219.86M344.39 213.61h1.6M344.39 219.86h1.6M345.67 219.93V226.29M344.87 219.93h1.6M344.87 226.29h1.6M346.14 217.25V223.29M345.34 217.25h1.6M345.34 223.29h1.6M346.61 218.35V223.44M345.81 218.35h1.6M345.81 223.44h1.6M347.08 214.09V220.06M346.28 214.09h1.6M346.28 220.06h1.6M347.55 213.68V218.32M346.75 213.68h1.6M346.75 218.32h1.6M348.02 219.63V224.05M347.22 219.63h1.6M347.22 224.05h1.6M348.49 215.53V219.71M347.69 215.53h1.6M347.69 219.71h1.6M348.96 211.71V217.63M348.16 211.71h1.6M348.16 217.63h1.6M349.43 210.74V217.08M348.63 210.74h1.6M348.63 217.08h1.6M349.90 217.73V222.44M349.10 217.73h1.6M349.10 222.44h1.6M350.37 211.42V217.15M349.57 211.42h1.6M349.57 217.15h1.6M350.84 209.95V214.58M350.04 209.95h1.6M350.04 214.58h1.6M351.31 209.04V214.89M350.51 209.04h1.6M350.51 214.89h1.6M351.78 199.55V203.95M350.98 199.55h1.6M350.98 203.95h1.6M352.25 206.13V211.38M351.45 206.13h1.6M351.45 211.38h1.6M352.72 200.97V207.29M351.92 200.97h1.6M351.92 207.29h1.6M353.19 197.02V202.67M352.39 197.02h1.6M352.39 202.67h1.6M354.60 188.87V193.07M353.80 188.87h1.6M353.80 193.07h1.6M355.07 186.35V191.10M354.27 186.35h1.6M354.27 191.10h1.6M358.36 159.23V164.98M357.56 159.23h1.6M357.56 164.98h1.6M359.78 162.51V167.73M358.98 162.51h1.6M358.98 167.73h1.6M360.25 157.10V163.11M359.45 157.10h1.6M359.45 163.11h1.6M361.19 151.83V156.90M360.39 151.83h1.6M360.39 156.90h1.6M361.66 154.19V160.02M360.86 154.19h1.6M360.86 160.02h1.6M362.60 160.74V165.31M361.80 160.74h1.6M361.80 165.31h1.6M363.54 161.57V165.88M362.74 161.57h1.6M362.74 165.88h1.6M364.01 158.01V162.07M363.21 158.01h1.6M363.21 162.07h1.6M364.48 163.85V168.54M363.68 163.85h1.6M363.68 168.54h1.6M364.95 174.76V179.50M364.15 174.76h1.6M364.15 179.50h1.6M365.42 168.09V173.37M364.62 168.09h1.6M364.62 173.37h1.6M366.83 188.32V194.48M366.03 188.32h1.6M366.03 194.48h1.6M369.19 214.63V218.88M368.39 214.63h1.6M368.39 218.88h1.6M369.75 223.30V229.66M368.95 223.30h1.6M368.95 229.66h1.6M370.31 221.64V226.78M369.51 221.64h1.6M369.51 226.78h1.6M370.87 222.59V228.79M370.07 222.59h1.6M370.07 228.79h1.6M371.43 223.80V229.52M370.63 223.80h1.6M370.63 229.52h1.6M371.99 219.17V224.71M371.19 219.17h1.6M371.19 224.71h1.6M372.55 216.00V220.68M371.75 216.00h1.6M371.75 220.68h1.6M373.11 208.77V214.56M372.31 208.77h1.6M372.31 214.56h1.6M373.66 211.05V215.62M372.86 211.05h1.6M372.86 215.62h1.6M374.22 208.11V212.22M373.42 208.11h1.6M373.42 212.22h1.6M374.78 212.05V216.77M373.98 212.05h1.6M373.98 216.77h1.6M375.34 210.36V215.35M374.54 210.36h1.6M374.54 215.35h1.6M375.90 211.34V215.49M375.10 211.34h1.6M375.10 215.49h1.6M376.46 213.48V218.54M375.66 213.48h1.6M375.66 218.54h1.6M377.02 217.19V222.45M376.22 217.19h1.6M376.22 222.45h1.6M377.58 214.68V220.33M376.78 214.68h1.6M376.78 220.33h1.6M378.14 220.41V225.89M377.34 220.41h1.6M377.34 225.89h1.6M378.70 216.42V220.51M377.90 216.42h1.6M377.90 220.51h1.6M379.26 221.83V227.73M378.46 221.83h1.6M378.46 227.73h1.6M379.82 225.00V229.09M379.02 225.00h1.6M379.02 229.09h1.6M380.38 216.47V221.65M379.58 216.47h1.6M379.58 221.65h1.6M380.94 224.17V228.33M380.14 224.17h1.6M380.14 228.33h1.6M381.50 221.96V227.00M380.70 221.96h1.6M380.70 227.00h1.6M382.06 226.17V230.50M381.26 226.17h1.6M381.26 230.50h1.6M382.62 223.75V229.85M381.82 223.75h1.6M381.82 229.85h1.6M383.18 221.47V227.62M382.38 221.47h1.6M382.38 227.62h1.6M383.74 223.14V227.73M382.94 223.14h1.6M382.94 227.73h1.6M384.30 215.29V219.52M383.50 215.29h1.6M383.50 219.52h1.6M384.85 219.63V225.06M384.05 219.63h1.6M384.05 225.06h1.6M385.41 220.14V225.60M384.61 220.14h1.6M384.61 225.60h1.6M385.97 211.54V217.13M385.17 211.54h1.6M385.17 217.13h1.6M386.53 212.15V216.80M385.73 212.15h1.6M385.73 216.80h1.6M387.09 219.77V225.84M386.29 219.77h1.6M386.29 225.84h1.6M387.65 214.10V218.28M386.85 214.10h1.6M386.85 218.28h1.6M388.21 208.06V212.75M387.41 208.06h1.6M387.41 212.75h1.6M388.77 212.64V218.92M387.97 212.64h1.6M387.97 218.92h1.6M389.33 211.89V216.35M388.53 211.89h1.6M388.53 216.35h1.6M389.89 211.59V216.14M389.09 211.59h1.6M389.09 216.14h1.6M390.45 217.16V222.90M389.65 217.16h1.6M389.65 222.90h1.6M391.01 213.30V217.94M390.21 213.30h1.6M390.21 217.94h1.6M391.57 207.43V213.20M390.77 207.43h1.6M390.77 213.20h1.6M392.13 205.98V210.13M391.33 205.98h1.6M391.33 210.13h1.6M392.69 210.31V215.05M391.89 210.31h1.6M391.89 215.05h1.6M393.25 209.67V215.61M392.45 209.67h1.6M392.45 215.61h1.6M393.81 207.79V213.32M393.01 207.79h1.6M393.01 213.32h1.6M394.37 210.12V215.40M393.57 210.12h1.6M393.57 215.40h1.6M394.93 209.73V215.65M394.13 209.73h1.6M394.13 215.65h1.6M395.49 215.87V220.14M394.69 215.87h1.6M394.69 220.14h1.6M396.04 213.96V218.45M395.24 213.96h1.6M395.24 218.45h1.6M396.60 213.42V217.98M395.80 213.42h1.6M395.80 217.98h1.6M397.16 214.24V218.59M396.36 214.24h1.6M396.36 218.59h1.6M397.72 221.84V226.44M396.92 221.84h1.6M396.92 226.44h1.6M398.28 214.88V220.54M397.48 214.88h1.6M397.48 220.54h1.6M398.84 218.47V223.36M398.04 218.47h1.6M398.04 223.36h1.6M399.40 218.79V224.79M398.60 218.79h1.6M398.60 224.79h1.6M399.96 226.54V231.07M399.16 226.54h1.6M399.16 231.07h1.6M400.52 221.63V226.69M399.72 221.63h1.6M399.72 226.69h1.6M401.08 227.27V233.17M400.28 227.27h1.6M400.28 233.17h1.6M401.64 231.71V236.61M400.84 231.71h1.6M400.84 236.61h1.6M402.20 224.18V229.78M401.40 224.18h1.6M401.40 229.78h1.6M402.76 225.36V231.03M401.96 225.36h1.6M401.96 231.03h1.6M403.32 224.50V230.37M402.52 224.50h1.6M402.52 230.37h1.6M403.88 224.41V228.58M403.08 224.41h1.6M403.08 228.58h1.6M404.44 223.53V229.43M403.64 223.53h1.6M403.64 229.43h1.6M405.00 220.19V224.77M404.20 220.19h1.6M404.20 224.77h1.6M405.56 220.75V224.88M404.76 220.75h1.6M404.76 224.88h1.6M406.12 217.53V221.86M405.32 217.53h1.6M405.32 221.86h1.6M406.68 213.48V219.15M405.88 213.48h1.6M405.88 219.15h1.6M407.24 219.01V223.43M406.44 219.01h1.6M406.44 223.43h1.6M407.79 217.75V223.38M406.99 217.75h1.6M406.99 223.38h1.6M408.35 213.84V219.28M407.55 213.84h1.6M407.55 219.28h1.6M408.91 222.30V227.00M408.11 222.30h1.6M408.11 227.00h1.6M409.47 219.21V225.53M408.67 219.21h1.6M408.67 225.53h1.6M410.03 217.86V222.13M409.23 217.86h1.6M409.23 222.13h1.6M410.59 222.13V228.05M409.79 222.13h1.6M409.79 228.05h1.6M411.15 214.05V219.25M410.35 214.05h1.6M410.35 219.25h1.6M411.71 211.54V216.87M410.91 211.54h1.6M410.91 216.87h1.6M412.27 221.02V226.97M411.47 221.02h1.6M411.47 226.97h1.6M412.83 220.97V226.11M412.03 220.97h1.6M412.03 226.11h1.6M413.39 216.17V222.06M412.59 216.17h1.6M412.59 222.06h1.6M413.95 216.50V220.79M413.15 216.50h1.6M413.15 220.79h1.6M414.51 226.53V231.42M413.71 226.53h1.6M413.71 231.42h1.6M415.07 220.00V226.11M414.27 220.00h1.6M414.27 226.11h1.6M415.63 224.08V228.58M414.83 224.08h1.6M414.83 228.58h1.6M416.19 229.37V235.43M415.39 229.37h1.6M415.39 235.43h1.6M416.75 226.07V231.71M415.95 226.07h1.6M415.95 231.71h1.6M417.31 227.82V232.76M416.51 227.82h1.6M416.51 232.76h1.6M417.87 226.23V232.01M417.07 226.23h1.6M417.07 232.01h1.6M418.43 227.83V232.72M417.63 227.83h1.6M417.63 232.72h1.6M418.98 228.18V232.95M418.18 228.18h1.6M418.18 232.95h1.6M419.54 226.22V231.76M418.74 226.22h1.6M418.74 231.76h1.6M420.10 225.34V230.51M419.30 225.34h1.6M419.30 230.51h1.6M420.66 222.45V226.94M419.86 222.45h1.6M419.86 226.94h1.6M421.22 219.71V224.58M420.42 219.71h1.6M420.42 224.58h1.6M421.78 218.47V223.58M420.98 218.47h1.6M420.98 223.58h1.6M422.34 223.35V227.99M421.54 223.35h1.6M421.54 227.99h1.6M422.90 221.92V226.53M422.10 221.92h1.6M422.10 226.53h1.6M423.46 221.69V226.35M422.66 221.69h1.6M422.66 226.35h1.6M424.02 215.07V221.08M423.22 215.07h1.6M423.22 221.08h1.6M424.58 219.58V223.64M423.78 219.58h1.6M423.78 223.64h1.6M425.14 223.34V228.82M424.34 223.34h1.6M424.34 228.82h1.6M425.70 225.42V230.36M424.90 225.42h1.6M424.90 230.36h1.6M426.26 224.99V231.02M425.46 224.99h1.6M425.46 231.02h1.6M426.82 223.16V227.56M426.02 223.16h1.6M426.02 227.56h1.6M427.38 227.34V231.62M426.58 227.34h1.6M426.58 231.62h1.6M427.94 223.56V229.72M427.14 223.56h1.6M427.14 229.72h1.6M428.50 220.11V225.77M427.70 220.11h1.6M427.70 225.77h1.6M429.06 224.67V230.29M428.26 224.67h1.6M428.26 230.29h1.6M429.62 220.80V226.30M428.82 220.80h1.6M428.82 226.30h1.6M430.17 227.71V233.30M429.37 227.71h1.6M429.37 233.30h1.6M430.73 221.86V226.50M429.93 221.86h1.6M429.93 226.50h1.6M431.29 221.03V226.80M430.49 221.03h1.6M430.49 226.80h1.6M431.85 225.14V229.35M431.05 225.14h1.6M431.05 229.35h1.6M432.41 217.19V221.99M431.61 217.19h1.6M431.61 221.99h1.6M432.97 220.96V225.94M432.17 220.96h1.6M432.17 225.94h1.6M433.53 222.66V227.57M432.73 222.66h1.6M432.73 227.57h1.6M434.09 221.38V225.46M433.29 221.38h1.6M433.29 225.46h1.6M434.65 217.05V221.08M433.85 217.05h1.6M433.85 221.08h1.6M435.21 223.16V228.56M434.41 223.16h1.6M434.41 228.56h1.6M435.77 218.71V224.36M434.97 218.71h1.6M434.97 224.36h1.6M436.33 223.02V228.26M435.53 223.02h1.6M435.53 228.26h1.6M436.89 220.03V225.11M436.09 220.03h1.6M436.09 225.11h1.6M437.45 223.31V227.82M436.65 223.31h1.6M436.65 227.82h1.6M438.01 222.34V227.23M437.21 222.34h1.6M437.21 227.23h1.6M438.57 219.95V225.68M437.77 219.95h1.6M437.77 225.68h1.6M439.13 222.66V228.73M438.33 222.66h1.6M438.33 228.73h1.6M439.69 222.27V227.21M438.89 222.27h1.6M438.89 227.21h1.6M440.25 222.03V227.80M439.45 222.03h1.6M439.45 227.80h1.6M440.81 224.45V228.48M440.01 224.45h1.6M440.01 228.48h1.6M441.37 225.38V229.95M440.57 225.38h1.6M440.57 229.95h1.6M441.92 226.29V231.47M441.12 226.29h1.6M441.12 231.47h1.6M442.48 224.74V230.58M441.68 224.74h1.6M441.68 230.58h1.6M443.04 223.51V229.54M442.24 223.51h1.6M442.24 229.54h1.6M443.60 222.27V227.05M442.80 222.27h1.6M442.80 227.05h1.6M444.16 222.30V226.56M443.36 222.30h1.6M443.36 226.56h1.6M444.72 229.58V235.51M443.92 229.58h1.6M443.92 235.51h1.6M445.28 225.17V230.92M444.48 225.17h1.6M444.48 230.92h1.6M445.84 224.09V229.82M445.04 224.09h1.6M445.04 229.82h1.6M446.40 222.03V226.38M445.60 222.03h1.6M445.60 226.38h1.6M446.96 221.06V227.33M446.16 221.06h1.6M446.16 227.33h1.6M447.52 228.57V234.45M446.72 228.57h1.6M446.72 234.45h1.6M448.08 222.88V228.51M447.28 222.88h1.6M447.28 228.51h1.6M448.64 228.98V233.85M447.84 228.98h1.6M447.84 233.85h1.6M449.20 224.61V229.54M448.40 224.61h1.6M448.40 229.54h1.6M449.76 225.14V230.88M448.96 225.14h1.6M448.96 230.88h1.6M450.32 223.86V229.23M449.52 223.86h1.6M449.52 229.23h1.6M450.88 217.18V221.25M450.08 217.18h1.6M450.08 221.25h1.6M451.44 222.30V228.44M450.64 222.30h1.6M450.64 228.44h1.6M452.00 222.20V227.31M451.20 222.20h1.6M451.20 227.31h1.6M452.56 220.01V224.65M451.76 220.01h1.6M451.76 224.65h1.6" stroke="#6aaee0" stroke-width="0.6" fill="none"/>
<g fill="none" stroke="#4a94cc" stroke-width="0.8"><circle cx="311.80" cy="213.06" r="1.1"/><circle cx="312.27" cy="209.84" r="1.1"/><circle cx="312.74" cy="215.80" r="1.1"/><circle cx="313.21" cy="208.62" r="1.1"/><circle cx="313.68" cy="207.14" r="1.1"/><circle cx="314.15" cy="212.16" r="1.1"/><circle cx="314.62" cy="209.44" r="1.1"/><circle cx="315.09" cy="210.03" r="1.1"/><circle cx="315.56" cy="212.08" r="1.1"/><circle cx="316.03" cy="213.58" r="1.1"/><circle cx="316.50" cy="217.27" r="1.1"/><circle cx="316.97" cy="206.56" r="1.1"/><circle cx="317.44" cy="211.15" r="1.1"/><circle cx="317.91" cy="203.16" r="1.1"/><circle cx="318.38" cy="208.50" r="1.1"/><circle cx="318.86" cy="210.25" r="1.1"/><circle cx="319.33" cy="213.22" r="1.1"/><circle cx="319.80" cy="206.88" r="1.1"/><circle cx="320.27" cy="212.87" r="1.1"/><circle cx="320.74" cy="206.44" r="1.1"/><circle cx="321.21" cy="212.65" r="1.1"/><circle cx="321.68" cy="210.88" r="1.1"/><circle cx="322.15" cy="216.27" r="1.1"/><circle cx="322.62" cy="204.26" r="1.1"/><circle cx="323.09" cy="211.93" r="1.1"/><circle cx="323.56" cy="212.90" r="1.1"/><circle cx="324.03" cy="209.22" r="1.1"/><circle cx="324.50" cy="214.60" r="1.1"/><circle cx="324.97" cy="209.47" r="1.1"/><circle cx="325.44" cy="215.59" r="1.1"/><circle cx="325.91" cy="210.29" r="1.1"/><circle cx="326.38" cy="215.31" r="1.1"/><circle cx="326.85" cy="217.84" r="1.1"/><circle cx="327.32" cy="214.02" r="1.1"/><circle cx="327.79" cy="216.79" r="1.1"/><circle cx="328.26" cy="210.71" r="1.1"/><circle cx="328.73" cy="212.62" r="1.1"/><circle cx="329.20" cy="211.34" r="1.1"/><circle cx="329.67" cy="212.89" r="1.1"/><circle cx="330.14" cy="214.53" r="1.1"/><circle cx="330.61" cy="213.58" r="1.1"/><circle cx="331.08" cy="210.63" r="1.1"/><circle cx="331.55" cy="214.73" r="1.1"/><circle cx="332.02" cy="216.78" r="1.1"/><circle cx="332.50" cy="217.67" r="1.1"/><circle cx="332.97" cy="215.58" r="1.1"/><circle cx="333.44" cy="217.48" r="1.1"/><circle cx="333.91" cy="209.51" r="1.1"/><circle cx="334.38" cy="219.31" r="1.1"/><circle cx="334.85" cy="219.25" r="1.1"/><circle cx="335.32" cy="217.07" r="1.1"/><circle cx="335.79" cy="214.33" r="1.1"/><circle cx="336.26" cy="217.45" r="1.1"/><circle cx="336.73" cy="219.84" r="1.1"/><circle cx="337.20" cy="219.62" r="1.1"/><circle cx="337.67" cy="218.44" r="1.1"/><circle cx="338.14" cy="214.55" r="1.1"/><circle cx="338.61" cy="220.89" r="1.1"/><circle cx="339.08" cy="218.36" r="1.1"/><circle cx="339.55" cy="220.07" r="1.1"/><circle cx="340.02" cy="217.16" r="1.1"/><circle cx="340.49" cy="216.95" r="1.1"/><circle cx="340.96" cy="222.78" r="1.1"/><circle cx="341.43" cy="210.78" r="1.1"/><circle cx="341.90" cy="217.65" r="1.1"/><circle cx="342.37" cy="219.85" r="1.1"/><circle cx="342.84" cy="221.07" r="1.1"/><circle cx="343.31" cy="219.11" r="1.1"/><circle cx="343.78" cy="218.22" r="1.1"/><circle cx="344.25" cy="216.48" r="1.1"/><circle cx="344.72" cy="218.34" r="1.1"/><circle cx="345.19" cy="216.74" r="1.1"/><circle cx="345.67" cy="223.11" r="1.1"/><circle cx="346.14" cy="220.27" r="1.1"/><circle cx="346.61" cy="220.90" r="1.1"/><circle cx="347.08" cy="217.08" r="1.1"/><circle cx="347.55" cy="216.00" r="1.1"/><circle cx="348.02" cy="221.84" r="1.1"/><circle cx="348.49" cy="217.62" r="1.1"/><circle cx="348.96" cy="214.67" r="1.1"/><circle cx="349.43" cy="213.91" r="1.1"/><circle cx="349.90" cy="220.09" r="1.1"/><circle cx="350.37" cy="214.28" r="1.1"/><circle cx="350.84" cy="212.27" r="1.1"/><circle cx="351.31" cy="211.96" r="1.1"/><circle cx="351.78" cy="201.75" r="1.1"/><circle cx="352.25" cy="208.75" r="1.1"/><circle cx="352.72" cy="204.13" r="1.1"/><circle cx="353.19" cy="199.84" r="1.1"/><circle cx="354.60" cy="190.97" r="1.1"/><circle cx="355.07" cy="188.73" r="1.1"/><circle cx="358.36" cy="162.11" r="1.1"/><circle cx="359.78" cy="165.12" r="1.1"/><circle cx="360.25" cy="160.11" r="1.1"/><circle cx="361.19" cy="154.36" r="1.1"/><circle cx="361.66" cy="157.11" r="1.1"/><circle cx="362.60" cy="163.02" r="1.1"/><circle cx="363.54" cy="163.72" r="1.1"/><circle cx="364.01" cy="160.04" r="1.1"/><circle cx="364.48" cy="166.19" r="1.1"/><circle cx="364.95" cy="177.13" r="1.1"/><circle cx="365.42" cy="170.73" r="1.1"/><circle cx="366.83" cy="191.40" r="1.1"/><circle cx="369.19" cy="216.75" r="1.1"/><circle cx="369.75" cy="226.48" r="1.1"/><circle cx="370.31" cy="224.21" r="1.1"/><circle cx="370.87" cy="225.69" r="1.1"/><circle cx="371.43" cy="226.66" r="1.1"/><circle cx="371.99" cy="221.94" r="1.1"/><circle cx="372.55" cy="218.34" r="1.1"/><circle cx="373.11" cy="211.66" r="1.1"/><circle cx="373.66" cy="213.33" r="1.1"/><circle cx="374.22" cy="210.16" r="1.1"/><circle cx="374.78" cy="214.41" r="1.1"/><circle cx="375.34" cy="212.86" r="1.1"/><circle cx="375.90" cy="213.42" r="1.1"/><circle cx="376.46" cy="216.01" r="1.1"/><circle cx="377.02" cy="219.82" r="1.1"/><circle cx="377.58" cy="217.50" r="1.1"/><circle cx="378.14" cy="223.15" r="1.1"/><circle cx="378.70" cy="218.47" r="1.1"/><circle cx="379.26" cy="224.78" r="1.1"/><circle cx="379.82" cy="227.04" r="1.1"/><circle cx="380.38" cy="219.06" r="1.1"/><circle cx="380.94" cy="226.25" r="1.1"/><circle cx="381.50" cy="224.48" r="1.1"/><circle cx="382.06" cy="228.34" r="1.1"/><circle cx="382.62" cy="226.80" r="1.1"/><circle cx="383.18" cy="224.54" r="1.1"/><circle cx="383.74" cy="225.44" r="1.1"/><circle cx="384.30" cy="217.41" r="1.1"/><circle cx="384.85" cy="222.35" r="1.1"/><circle cx="385.41" cy="222.87" r="1.1"/><circle cx="385.97" cy="214.34" r="1.1"/><circle cx="386.53" cy="214.47" r="1.1"/><circle cx="387.09" cy="222.81" r="1.1"/><circle cx="387.65" cy="216.19" r="1.1"/><circle cx="388.21" cy="210.41" r="1.1"/><circle cx="388.77" cy="215.78" r="1.1"/><circle cx="389.33" cy="214.12" r="1.1"/><circle cx="389.89" cy="213.86" r="1.1"/><circle cx="390.45" cy="220.03" r="1.1"/><circle cx="391.01" cy="215.62" r="1.1"/><circle cx="391.57" cy="210.31" r="1.1"/><circle cx="392.13" cy="208.06" r="1.1"/><circle cx="392.69" cy="212.68" r="1.1"/><circle cx="393.25" cy="212.64" r="1.1"/><circle cx="393.81" cy="210.55" r="1.1"/><circle cx="394.37" cy="212.76" r="1.1"/><circle cx="394.93" cy="212.69" r="1.1"/><circle cx="395.49" cy="218.01" r="1.1"/><circle cx="396.04" cy="216.21" r="1.1"/><circle cx="396.60" cy="215.70" r="1.1"/><circle cx="397.16" cy="216.41" r="1.1"/><circle cx="397.72" cy="224.14" r="1.1"/><circle cx="398.28" cy="217.71" r="1.1"/><circle cx="398.84" cy="220.92" r="1.1"/><circle cx="399.40" cy="221.79" r="1.1"/><circle cx="399.96" cy="228.81" r="1.1"/><circle cx="400.52" cy="224.16" r="1.1"/><circle cx="401.08" cy="230.22" r="1.1"/><circle cx="401.64" cy="234.16" r="1.1"/><circle cx="402.20" cy="226.98" r="1.1"/><circle cx="402.76" cy="228.19" r="1.1"/><circle cx="403.32" cy="227.43" r="1.1"/><circle cx="403.88" cy="226.50" r="1.1"/><circle cx="404.44" cy="226.48" r="1.1"/><circle cx="405.00" cy="222.48" r="1.1"/><circle cx="405.56" cy="222.81" r="1.1"/><circle cx="406.12" cy="219.70" r="1.1"/><circle cx="406.68" cy="216.32" r="1.1"/><circle cx="407.24" cy="221.22" r="1.1"/><circle cx="407.79" cy="220.56" r="1.1"/><circle cx="408.35" cy="216.56" r="1.1"/><circle cx="408.91" cy="224.65" r="1.1"/><circle cx="409.47" cy="222.37" r="1.1"/><circle cx="410.03" cy="219.99" r="1.1"/><circle cx="410.59" cy="225.09" r="1.1"/><circle cx="411.15" cy="216.65" r="1.1"/><circle cx="411.71" cy="214.20" r="1.1"/><circle cx="412.27" cy="224.00" r="1.1"/><circle cx="412.83" cy="223.54" r="1.1"/><circle cx="413.39" cy="219.12" r="1.1"/><circle cx="413.95" cy="218.64" r="1.1"/><circle cx="414.51" cy="228.98" r="1.1"/><circle cx="415.07" cy="223.05" r="1.1"/><circle cx="415.63" cy="226.33" r="1.1"/><circle cx="416.19" cy="232.40" r="1.1"/><circle cx="416.75" cy="228.89" r="1.1"/><circle cx="417.31" cy="230.29" r="1.1"/><circle cx="417.87" cy="229.12" r="1.1"/><circle cx="418.43" cy="230.27" r="1.1"/><circle cx="418.98" cy="230.56" r="1.1"/><circle cx="419.54" cy="228.99" r="1.1"/><circle cx="420.10" cy="227.92" r="1.1"/><circle cx="420.66" cy="224.69" r="1.1"/><circle cx="421.22" cy="222.14" r="1.1"/><circle cx="421.78" cy="221.02" r="1.1"/><circle cx="422.34" cy="225.67" r="1.1"/><circle cx="422.90" cy="224.22" r="1.1"/><circle cx="423.46" cy="224.02" r="1.1"/><circle cx="424.02" cy="218.07" r="1.1"/><circle cx="424.58" cy="221.61" r="1.1"/><circle cx="425.14" cy="226.08" r="1.1"/><circle cx="425.70" cy="227.89" r="1.1"/><circle cx="426.26" cy="228.00" r="1.1"/><circle cx="426.82" cy="225.36" r="1.1"/><circle cx="427.38" cy="229.48" r="1.1"/><circle cx="427.94" cy="226.64" r="1.1"/><circle cx="428.50" cy="222.94" r="1.1"/><circle cx="429.06" cy="227.48" r="1.1"/><circle cx="429.62" cy="223.55" r="1.1"/><circle cx="430.17" cy="230.50" r="1.1"/><circle cx="430.73" cy="224.18" r="1.1"/><circle cx="431.29" cy="223.91" r="1.1"/><circle cx="431.85" cy="227.24" r="1.1"/><circle cx="432.41" cy="219.59" r="1.1"/><circle cx="432.97" cy="223.45" r="1.1"/><circle cx="433.53" cy="225.12" r="1.1"/><circle cx="434.09" cy="223.42" r="1.1"/><circle cx="434.65" cy="219.06" r="1.1"/><circle cx="435.21" cy="225.86" r="1.1"/><circle cx="435.77" cy="221.54" r="1.1"/><circle cx="436.33" cy="225.64" r="1.1"/><circle cx="436.89" cy="222.57" r="1.1"/><circle cx="437.45" cy="225.57" r="1.1"/><circle cx="438.01" cy="224.78" r="1.1"/><circle cx="438.57" cy="222.81" r="1.1"/><circle cx="439.13" cy="225.69" r="1.1"/><circle cx="439.69" cy="224.74" r="1.1"/><circle cx="440.25" cy="224.92" r="1.1"/><circle cx="440.81" cy="226.47" r="1.1"/><circle cx="441.37" cy="227.67" r="1.1"/><circle cx="441.92" cy="228.88" r="1.1"/><circle cx="442.48" cy="227.66" r="1.1"/><circle cx="443.04" cy="226.52" r="1.1"/><circle cx="443.60" cy="224.66" r="1.1"/><circle cx="444.16" cy="224.43" r="1.1"/><circle cx="444.72" cy="232.54" r="1.1"/><circle cx="445.28" cy="228.05" r="1.1"/><circle cx="445.84" cy="226.95" r="1.1"/><circle cx="446.40" cy="224.21" r="1.1"/><circle cx="446.96" cy="224.20" r="1.1"/><circle cx="447.52" cy="231.51" r="1.1"/><circle cx="448.08" cy="225.70" r="1.1"/><circle cx="448.64" cy="231.42" r="1.1"/><circle cx="449.20" cy="227.08" r="1.1"/><circle cx="449.76" cy="228.01" r="1.1"/><circle cx="450.32" cy="226.55" r="1.1"/><circle cx="450.88" cy="219.22" r="1.1"/><circle cx="451.44" cy="225.37" r="1.1"/><circle cx="452.00" cy="224.75" r="1.1"/><circle cx="452.56" cy="222.33" r="1.1"/></g>
<rect x="311.8" y="14.2" width="141.7" height="222.4" fill="none" stroke="#4a4a4a" stroke-width="1"/>
<line x1="311.8" y1="93.2" x2="453.5" y2="93.2" stroke="#4a4a4a" stroke-width="1"/>
<path d="M311.80 14.2v2.5M311.80 93.2v-1.5M311.80 93.2v1.5M311.80 236.6v-2.5M316.52 14.2v1.3M316.52 93.2v-0.78M316.52 93.2v0.78M316.52 236.6v-1.3M321.25 14.2v1.3M321.25 93.2v-0.78M321.25 93.2v0.78M321.25 236.6v-1.3M325.97 14.2v1.3M325.97 93.2v-0.78M325.97 93.2v0.78M325.97 236.6v-1.3M330.69 14.2v1.3M330.69 93.2v-0.78M330.69 93.2v0.78M330.69 236.6v-1.3M335.42 14.2v2.5M335.42 93.2v-1.5M335.42 93.2v1.5M335.42 236.6v-2.5M340.14 14.2v1.3M340.14 93.2v-0.78M340.14 93.2v0.78M340.14 236.6v-1.3M344.86 14.2v1.3M344.86 93.2v-0.78M344.86 93.2v0.78M344.86 236.6v-1.3M349.59 14.2v1.3M349.59 93.2v-0.78M349.59 93.2v0.78M349.59 236.6v-1.3M354.31 14.2v1.3M354.31 93.2v-0.78M354.31 93.2v0.78M354.31 236.6v-1.3M359.03 14.2v2.5M359.03 93.2v-1.5M359.03 93.2v1.5M359.03 236.6v-2.5M363.76 14.2v1.3M363.76 93.2v-0.78M363.76 93.2v0.78M363.76 236.6v-1.3M368.48 14.2v1.3M368.48 93.2v-0.78M368.48 93.2v0.78M368.48 236.6v-1.3M373.20 14.2v1.3M373.20 93.2v-0.78M373.20 93.2v0.78M373.20 236.6v-1.3M377.93 14.2v1.3M377.93 93.2v-0.78M377.93 93.2v0.78M377.93 236.6v-1.3M382.65 14.2v2.5M382.65 93.2v-1.5M382.65 93.2v1.5M382.65 236.6v-2.5M387.37 14.2v1.3M387.37 93.2v-0.78M387.37 93.2v0.78M387.37 236.6v-1.3M392.10 14.2v1.3M392.10 93.2v-0.78M392.10 93.2v0.78M392.10 236.6v-1.3M396.82 14.2v1.3M396.82 93.2v-0.78M396.82 93.2v0.78M396.82 236.6v-1.3M401.54 14.2v1.3M401.54 93.2v-0.78M401.54 93.2v0.78M401.54 236.6v-1.3M406.27 14.2v2.5M406.27 93.2v-1.5M406.27 93.2v1.5M406.27 236.6v-2.5M410.99 14.2v1.3M410.99 93.2v-0.78M410.99 93.2v0.78M410.99 236.6v-1.3M415.71 14.2v1.3M415.71 93.2v-0.78M415.71 93.2v0.78M415.71 236.6v-1.3M420.44 14.2v1.3M420.44 93.2v-0.78M420.44 93.2v0.78M420.44 236.6v-1.3M425.16 14.2v1.3M425.16 93.2v-0.78M425.16 93.2v0.78M425.16 236.6v-1.3M429.88 14.2v2.5M429.88 93.2v-1.5M429.88 93.2v1.5M429.88 236.6v-2.5M434.61 14.2v1.3M434.61 93.2v-0.78M434.61 93.2v0.78M434.61 236.6v-1.3M439.33 14.2v1.3M439.33 93.2v-0.78M439.33 93.2v0.78M439.33 236.6v-1.3M444.05 14.2v1.3M444.05 93.2v-0.78M444.05 93.2v0.78M444.05 236.6v-1.3M448.78 14.2v1.3M448.78 93.2v-0.78M448.78 93.2v0.78M448.78 236.6v-1.3M453.50 14.2v2.5M453.50 93.2v-1.5M453.50 93.2v1.5M453.50 236.6v-2.5M311.8 91.86h1.3M311.8 89.45h1.3M311.8 87.04h1.3M311.8 84.62h1.3M311.8 82.21h1.3M311.8 79.80h2.5M311.8 77.39h1.3M311.8 74.97h1.3M311.8 72.56h1.3M311.8 70.15h1.3M311.8 67.74h1.3M311.8 65.32h1.3M311.8 62.91h1.3M311.8 60.50h2.5M311.8 58.09h1.3M311.8 55.67h1.3M311.8 53.26h1.3M311.8 50.85h1.3M311.8 48.44h1.3M311.8 46.02h1.3M311.8 43.61h1.3M311.8 41.20h2.5M311.8 38.79h1.3M311.8 36.37h1.3M311.8 33.96h1.3M311.8 31.55h1.3M311.8 29.14h1.3M311.8 26.72h1.3M311.8 24.31h1.3M311.8 21.90h2.5M311.8 19.49h1.3M311.8 17.07h1.3M311.8 14.66h1.3M453.5 93.10h-2.5M453.5 86.45h-1.3M453.5 79.80h-2.5M453.5 73.15h-1.3M453.5 66.50h-2.5M453.5 59.85h-1.3M453.5 53.20h-2.5M453.5 46.55h-1.3M453.5 39.90h-2.5M453.5 33.25h-1.3M453.5 26.60h-2.5M453.5 19.95h-1.3M311.8 235.09h1.3M311.8 232.30h2.5M311.8 229.51h1.3M311.8 226.72h1.3M311.8 223.94h1.3M311.8 221.15h1.3M311.8 218.36h1.3M311.8 215.57h1.3M311.8 212.79h1.3M311.8 210.00h2.5M311.8 207.21h1.3M311.8 204.43h1.3M311.8 201.64h1.3M311.8 198.85h1.3M311.8 196.06h1.3M311.8 193.28h1.3M311.8 190.49h1.3M311.8 187.70h2.5M311.8 184.91h1.3M311.8 182.12h1.3M311.8 179.34h1.3M311.8 176.55h1.3M311.8 173.76h1.3M311.8 170.97h1.3M311.8 168.19h1.3M311.8 165.40h2.5M311.8 162.61h1.3M311.8 159.82h1.3M311.8 157.04h1.3M311.8 154.25h1.3M311.8 151.46h1.3M311.8 148.68h1.3M311.8 145.89h1.3M311.8 143.10h2.5M311.8 140.31h1.3M311.8 137.52h1.3M311.8 134.74h1.3M311.8 131.95h1.3M311.8 129.16h1.3M311.8 126.38h1.3M311.8 123.59h1.3M311.8 120.80h2.5M311.8 118.01h1.3M311.8 115.22h1.3M311.8 112.44h1.3M311.8 109.65h1.3M311.8 106.86h1.3M311.8 104.08h1.3M311.8 101.29h1.3M311.8 98.50h2.5M311.8 95.71h1.3M453.5 235.09h-1.3M453.5 232.30h-2.5M453.5 229.51h-1.3M453.5 226.72h-1.3M453.5 223.94h-1.3M453.5 221.15h-1.3M453.5 218.36h-1.3M453.5 215.57h-1.3M453.5 212.79h-1.3M453.5 210.00h-2.5M453.5 207.21h-1.3M453.5 204.43h-1.3M453.5 201.64h-1.3M453.5 198.85h-1.3M453.5 196.06h-1.3M453.5 193.28h-1.3M453.5 190.49h-1.3M453.5 187.70h-2.5M453.5 184.91h-1.3M453.5 182.12h-1.3M453.5 179.34h-1.3M453.5 176.55h-1.3M453.5 173.76h-1.3M453.5 170.97h-1.3M453.5 168.19h-1.3M453.5 165.40h-2.5M453.5 162.61h-1.3M453.5 159.82h-1.3M453.5 157.04h-1.3M453.5 154.25h-1.3M453.5 151.46h-1.3M453.5 148.68h-1.3M453.5 145.89h-1.3M453.5 143.10h-2.5M453.5 140.31h-1.3M453.5 137.52h-1.3M453.5 134.74h-1.3M453.5 131.95h-1.3M453.5 129.16h-1.3M453.5 126.38h-1.3M453.5 123.59h-1.3M453.5 120.80h-2.5M453.5 118.01h-1.3M453.5 115.22h-1.3M453.5 112.44h-1.3M453.5 109.65h-1.3M453.5 106.86h-1.3M453.5 104.08h-1.3M453.5 101.29h-1.3M453.5 98.50h-2.5M453.5 95.71h-1.3" stroke="#4a4a4a" stroke-width="0.6" fill="none"/>
<text x="309.6" y="25.3" font-size="9.8" text-anchor="end" fill="#2a2a2a" >6</text>
<text x="309.6" y="44.6" font-size="9.8" text-anchor="end" fill="#2a2a2a" >4</text>
<text x="309.6" y="63.9" font-size="9.8" text-anchor="end" fill="#2a2a2a" >2</text>
<text x="309.6" y="83.2" font-size="9.8" text-anchor="end" fill="#2a2a2a" >0</text>
<text x="455.6" y="30.0" font-size="9.8" text-anchor="start" fill="#2a2a2a" >4</text>
<text x="455.6" y="43.3" font-size="9.8" text-anchor="start" fill="#2a2a2a" >3</text>
<text x="455.6" y="56.6" font-size="9.8" text-anchor="start" fill="#2a2a2a" >2</text>
<text x="455.6" y="69.9" font-size="9.8" text-anchor="start" fill="#2a2a2a" >1</text>
<text x="455.6" y="83.2" font-size="9.8" text-anchor="start" fill="#2a2a2a" >0</text>
<text x="455.6" y="96.5" font-size="9.8" text-anchor="start" fill="#2a2a2a" >-1</text>
<text x="309.6" y="101.9" font-size="9.8" text-anchor="end" fill="#2a2a2a" >10</text>
<text x="309.6" y="124.2" font-size="9.8" text-anchor="end" fill="#2a2a2a" >8</text>
<text x="309.6" y="146.5" font-size="9.8" text-anchor="end" fill="#2a2a2a" >6</text>
<text x="309.6" y="168.8" font-size="9.8" text-anchor="end" fill="#2a2a2a" >4</text>
<text x="309.6" y="191.1" font-size="9.8" text-anchor="end" fill="#2a2a2a" >2</text>
<text x="309.6" y="213.4" font-size="9.8" text-anchor="end" fill="#2a2a2a" >0</text>
<text x="309.6" y="235.7" font-size="9.8" text-anchor="end" fill="#2a2a2a" >-2</text>
<text x="311.8" y="247.2" font-size="9.8" text-anchor="middle" fill="#2a2a2a" >0</text>
<text x="335.42" y="247.2" font-size="9.8" text-anchor="middle" fill="#2a2a2a" >1</text>
<text x="359.03" y="247.2" font-size="9.8" text-anchor="middle" fill="#2a2a2a" >2</text>
<text x="382.65" y="247.2" font-size="9.8" text-anchor="middle" fill="#2a2a2a" >3</text>
<text x="406.27" y="247.2" font-size="9.8" text-anchor="middle" fill="#2a2a2a" >4</text>
<text x="429.88" y="247.2" font-size="9.8" text-anchor="middle" fill="#2a2a2a" >5</text>
<text x="453.5" y="247.2" font-size="9.8" text-anchor="middle" fill="#2a2a2a" >6</text>
<text x="383.9" y="257.6" font-size="10.5" text-anchor="middle" fill="#2a2a2a" textLength="77.4" lengthAdjust="spacingAndGlyphs" >Time Delay (ps)</text>
<text x="474.4" y="56.9" font-size="10.2" text-anchor="middle" fill="#2a2a2a" textLength="74.5" lengthAdjust="spacingAndGlyphs" transform="rotate(-90 474.4 56.9)" >E-Field (MV/cm)</text>
<text x="297.4" y="56.2" font-size="10.5" text-anchor="middle" fill="#2a2a2a" textLength="91.7" lengthAdjust="spacingAndGlyphs" transform="rotate(-90 297.4 56.2)">(I<tspan font-size="6.51" dy="2.31">t</tspan><tspan dy="-2.31">-I</tspan><tspan font-size="6.51" dy="2.31">t&lt;0</tspan><tspan dy="-2.31">)/I</tspan><tspan font-size="6.51" dy="2.31">t&lt;0</tspan><tspan dy="-2.31"> (percent)</tspan></text>
<text x="297.4" y="168.2" font-size="10.5" text-anchor="middle" fill="#2a2a2a" textLength="90.5" lengthAdjust="spacingAndGlyphs" transform="rotate(-90 297.4 168.2)">(I<tspan font-size="6.51" dy="2.31">t</tspan><tspan dy="-2.31">-I</tspan><tspan font-size="6.51" dy="2.31">t&lt;0</tspan><tspan dy="-2.31">)/I</tspan><tspan font-size="6.51" dy="2.31">t&lt;0</tspan><tspan dy="-2.31"> (percent)</tspan></text>
<text x="321.7" y="23.8" font-size="10" text-anchor="middle" fill="#2a2a2a" textLength="15" lengthAdjust="spacingAndGlyphs" >(A)</text>
<text x="320.9" y="112.1" font-size="10" text-anchor="middle" fill="#2a2a2a" textLength="15" lengthAdjust="spacingAndGlyphs" >(B)</text>
<line x1="409.3" y1="160.4" x2="414.3" y2="160.4" stroke="#222" stroke-width="1.1"/>
<text x="415.8" y="164" font-size="10" text-anchor="start" fill="#222" textLength="19" lengthAdjust="spacingAndGlyphs" font-weight="bold">THz</text>
<polygon points="411,172.6 409.6,175.1 412.4,175.1" fill="#e8201e"/>
<text x="415.6" y="178" font-size="10" text-anchor="start" fill="#222" textLength="23" lengthAdjust="spacingAndGlyphs" >(004)</text>
<circle cx="411" cy="187.1" r="1.1" fill="#a060e0"/>
<text x="415.6" y="190.6" font-size="10" text-anchor="start" fill="#222" textLength="23" lengthAdjust="spacingAndGlyphs" >(223)</text>
<line x1="419" y1="182.6" x2="423.6" y2="182.6" stroke="#222" stroke-width="0.6"/>
<circle cx="411" cy="198.8" r="1.1" fill="none" stroke="#4b94c8" stroke-width="0.7"/>
<text x="415.6" y="202.3" font-size="10" text-anchor="start" fill="#222" textLength="23" lengthAdjust="spacingAndGlyphs" >(223)</text>
<line x1="423.6" y1="194.3" x2="428.2" y2="194.3" stroke="#222" stroke-width="0.6"/>
<path d="M521.20 142.48V150.23M519.90 142.48h2.6M519.90 150.23h2.6M523.61 139.08V146.18M522.31 139.08h2.6M522.31 146.18h2.6M526.03 137.52V147.07M524.73 137.52h2.6M524.73 147.07h2.6M528.44 141.12V150.25M527.14 141.12h2.6M527.14 150.25h2.6M530.86 140.38V148.71M529.56 140.38h2.6M529.56 148.71h2.6M533.27 141.02V149.82M531.97 141.02h2.6M531.97 149.82h2.6M535.68 139.00V147.92M534.38 139.00h2.6M534.38 147.92h2.6M538.10 140.86V150.15M536.80 140.86h2.6M536.80 150.15h2.6M540.51 139.29V149.17M539.21 139.29h2.6M539.21 149.17h2.6M542.92 147.47V154.19M541.62 147.47h2.6M541.62 154.19h2.6M545.34 139.13V147.78M544.04 139.13h2.6M544.04 147.78h2.6M547.75 144.55V151.23M546.45 144.55h2.6M546.45 151.23h2.6M550.17 142.70V150.60M548.87 142.70h2.6M548.87 150.60h2.6M552.58 144.17V153.47M551.28 144.17h2.6M551.28 153.47h2.6M554.99 143.84V153.59M553.69 143.84h2.6M553.69 153.59h2.6M557.41 141.49V150.69M556.11 141.49h2.6M556.11 150.69h2.6M559.82 141.46V147.71M558.52 141.46h2.6M558.52 147.71h2.6M562.23 145.22V152.79M560.93 145.22h2.6M560.93 152.79h2.6M564.65 147.82V154.59M563.35 147.82h2.6M563.35 154.59h2.6M567.06 144.98V155.14M565.76 144.98h2.6M565.76 155.14h2.6M569.48 150.58V157.27M568.18 150.58h2.6M568.18 157.27h2.6M571.89 152.12V159.22M570.59 152.12h2.6M570.59 159.22h2.6M574.30 147.70V155.26M573.00 147.70h2.6M573.00 155.26h2.6M576.72 149.92V156.27M575.42 149.92h2.6M575.42 156.27h2.6M579.13 149.43V159.08M577.83 149.43h2.6M577.83 159.08h2.6M581.54 137.97V146.66M580.24 137.97h2.6M580.24 146.66h2.6M583.96 131.62V138.37M582.66 131.62h2.6M582.66 138.37h2.6M586.37 126.10V134.23M585.07 126.10h2.6M585.07 134.23h2.6M588.79 116.81V123.23M587.49 116.81h2.6M587.49 123.23h2.6M591.20 104.11V112.71M589.90 104.11h2.6M589.90 112.71h2.6M593.61 97.95V105.00M592.31 97.95h2.6M592.31 105.00h2.6M596.03 101.58V107.84M594.73 101.58h2.6M594.73 107.84h2.6M598.44 106.41V112.99M597.14 106.41h2.6M597.14 112.99h2.6M600.86 115.09V123.45M599.56 115.09h2.6M599.56 123.45h2.6M603.27 126.24V134.94M601.97 126.24h2.6M601.97 134.94h2.6M605.68 150.05V157.48M604.38 150.05h2.6M604.38 157.48h2.6M608.10 155.47V164.19M606.80 155.47h2.6M606.80 164.19h2.6M610.51 150.31V157.84M609.21 150.31h2.6M609.21 157.84h2.6M612.92 149.06V155.70M611.62 149.06h2.6M611.62 155.70h2.6M615.34 151.47V158.86M614.04 151.47h2.6M614.04 158.86h2.6M617.75 150.91V158.62M616.45 150.91h2.6M616.45 158.62h2.6M620.17 152.39V162.21M618.87 152.39h2.6M618.87 162.21h2.6M622.58 154.33V160.91M621.28 154.33h2.6M621.28 160.91h2.6M624.99 157.05V163.51M623.69 157.05h2.6M623.69 163.51h2.6M627.41 151.48V159.87M626.11 151.48h2.6M626.11 159.87h2.6M629.82 147.91V157.93M628.52 147.91h2.6M628.52 157.93h2.6M632.23 148.99V158.79M630.93 148.99h2.6M630.93 158.79h2.6M634.65 144.61V153.57M633.35 144.61h2.6M633.35 153.57h2.6M637.06 144.50V150.87M635.76 144.50h2.6M635.76 150.87h2.6M639.48 145.47V154.85M638.18 145.47h2.6M638.18 154.85h2.6M641.89 140.30V149.19M640.59 140.30h2.6M640.59 149.19h2.6M644.30 144.33V151.02M643.00 144.33h2.6M643.00 151.02h2.6M646.72 146.16V154.16M645.42 146.16h2.6M645.42 154.16h2.6M649.13 149.65V155.96M647.83 149.65h2.6M647.83 155.96h2.6M651.54 149.91V159.28M650.24 149.91h2.6M650.24 159.28h2.6M653.96 158.55V167.58M652.66 158.55h2.6M652.66 167.58h2.6M656.37 156.18V165.56M655.07 156.18h2.6M655.07 165.56h2.6M658.79 154.47V163.67M657.49 154.47h2.6M657.49 163.67h2.6M661.20 159.16V166.35M659.90 159.16h2.6M659.90 166.35h2.6M663.61 151.35V160.67M662.31 151.35h2.6M662.31 160.67h2.6M666.03 152.01V159.13M664.73 152.01h2.6M664.73 159.13h2.6M668.44 150.91V157.57M667.14 150.91h2.6M667.14 157.57h2.6M670.86 154.91V162.61M669.56 154.91h2.6M669.56 162.61h2.6M673.27 155.39V163.52M671.97 155.39h2.6M671.97 163.52h2.6M675.68 156.67V163.93M674.38 156.67h2.6M674.38 163.93h2.6M678.10 160.53V169.10M676.80 160.53h2.6M676.80 169.10h2.6M680.51 157.06V165.62M679.21 157.06h2.6M679.21 165.62h2.6M682.92 157.36V164.44M681.62 157.36h2.6M681.62 164.44h2.6M685.34 153.11V161.75M684.04 153.11h2.6M684.04 161.75h2.6M687.75 156.47V164.03M686.45 156.47h2.6M686.45 164.03h2.6M690.17 153.48V162.57M688.87 153.48h2.6M688.87 162.57h2.6M692.58 157.02V164.30M691.28 157.02h2.6M691.28 164.30h2.6M694.99 159.32V168.68M693.69 159.32h2.6M693.69 168.68h2.6M697.41 156.63V164.43M696.11 156.63h2.6M696.11 164.43h2.6M699.82 153.09V161.45M698.52 153.09h2.6M698.52 161.45h2.6M702.23 149.81V158.66M700.93 149.81h2.6M700.93 158.66h2.6M704.65 156.68V164.90M703.35 156.68h2.6M703.35 164.90h2.6M707.06 152.91V160.06M705.76 152.91h2.6M705.76 160.06h2.6M709.48 153.82V163.91M708.18 153.82h2.6M708.18 163.91h2.6M711.89 158.32V164.81M710.59 158.32h2.6M710.59 164.81h2.6M714.30 161.38V168.81M713.00 161.38h2.6M713.00 168.81h2.6M716.72 157.06V165.40M715.42 157.06h2.6M715.42 165.40h2.6M719.13 163.91V170.14M717.83 163.91h2.6M717.83 170.14h2.6M721.54 157.92V164.66M720.24 157.92h2.6M720.24 164.66h2.6M723.96 153.42V162.78M722.66 153.42h2.6M722.66 162.78h2.6M726.37 158.71V168.01M725.07 158.71h2.6M725.07 168.01h2.6M728.79 154.51V163.21M727.49 154.51h2.6M727.49 163.21h2.6M731.20 156.12V165.90M729.90 156.12h2.6M729.90 165.90h2.6" stroke="#f01818" stroke-width="0.7" fill="none"/>
<g fill="none" stroke="#f01818" stroke-width="0.95"><polygon points="521.20,144.66 519.60,147.46 522.80,147.46"/><polygon points="523.61,140.93 522.01,143.73 525.21,143.73"/><polygon points="526.03,140.60 524.43,143.40 527.63,143.40"/><polygon points="528.44,143.99 526.84,146.79 530.04,146.79"/><polygon points="530.86,142.85 529.26,145.65 532.46,145.65"/><polygon points="533.27,143.72 531.67,146.52 534.87,146.52"/><polygon points="535.68,141.76 534.08,144.56 537.28,144.56"/><polygon points="538.10,143.80 536.50,146.60 539.70,146.60"/><polygon points="540.51,142.53 538.91,145.33 542.11,145.33"/><polygon points="542.92,149.13 541.32,151.93 544.52,151.93"/><polygon points="545.34,141.76 543.74,144.56 546.94,144.56"/><polygon points="547.75,146.19 546.15,148.99 549.35,148.99"/><polygon points="550.17,144.95 548.57,147.75 551.77,147.75"/><polygon points="552.58,147.12 550.98,149.92 554.18,149.92"/><polygon points="554.99,147.02 553.39,149.82 556.59,149.82"/><polygon points="557.41,144.39 555.81,147.19 559.01,147.19"/><polygon points="559.82,142.88 558.22,145.68 561.42,145.68"/><polygon points="562.23,147.30 560.63,150.10 563.83,150.10"/><polygon points="564.65,149.50 563.05,152.30 566.25,152.30"/><polygon points="567.06,148.36 565.46,151.16 568.66,151.16"/><polygon points="569.48,152.23 567.88,155.03 571.08,155.03"/><polygon points="571.89,153.97 570.29,156.77 573.49,156.77"/><polygon points="574.30,149.78 572.70,152.58 575.90,152.58"/><polygon points="576.72,151.39 575.12,154.19 578.32,154.19"/><polygon points="579.13,152.55 577.53,155.35 580.73,155.35"/><polygon points="581.54,140.62 579.94,143.42 583.14,143.42"/><polygon points="583.96,133.30 582.36,136.10 585.56,136.10"/><polygon points="586.37,128.47 584.77,131.27 587.97,131.27"/><polygon points="588.79,118.32 587.19,121.12 590.39,121.12"/><polygon points="591.20,106.71 589.60,109.51 592.80,109.51"/><polygon points="593.61,99.77 592.01,102.57 595.21,102.57"/><polygon points="596.03,103.01 594.43,105.81 597.63,105.81"/><polygon points="598.44,108.00 596.84,110.80 600.04,110.80"/><polygon points="600.86,117.57 599.26,120.37 602.46,120.37"/><polygon points="603.27,128.89 601.67,131.69 604.87,131.69"/><polygon points="605.68,152.06 604.08,154.86 607.28,154.86"/><polygon points="608.10,158.13 606.50,160.93 609.70,160.93"/><polygon points="610.51,152.38 608.91,155.18 612.11,155.18"/><polygon points="612.92,150.68 611.32,153.48 614.52,153.48"/><polygon points="615.34,153.46 613.74,156.26 616.94,156.26"/><polygon points="617.75,153.06 616.15,155.86 619.35,155.86"/><polygon points="620.17,155.60 618.57,158.40 621.77,158.40"/><polygon points="622.58,155.92 620.98,158.72 624.18,158.72"/><polygon points="624.99,158.58 623.39,161.38 626.59,161.38"/><polygon points="627.41,153.97 625.81,156.77 629.01,156.77"/><polygon points="629.82,151.22 628.22,154.02 631.42,154.02"/><polygon points="632.23,152.19 630.63,154.99 633.83,154.99"/><polygon points="634.65,147.39 633.05,150.19 636.25,150.19"/><polygon points="637.06,145.98 635.46,148.78 638.66,148.78"/><polygon points="639.48,148.46 637.88,151.26 641.08,151.26"/><polygon points="641.89,143.05 640.29,145.85 643.49,145.85"/><polygon points="644.30,145.97 642.70,148.77 645.90,148.77"/><polygon points="646.72,148.46 645.12,151.26 648.32,151.26"/><polygon points="649.13,151.11 647.53,153.91 650.73,153.91"/><polygon points="651.54,152.89 649.94,155.69 653.14,155.69"/><polygon points="653.96,161.37 652.36,164.17 655.56,164.17"/><polygon points="656.37,159.17 654.77,161.97 657.97,161.97"/><polygon points="658.79,157.37 657.19,160.17 660.39,160.17"/><polygon points="661.20,161.06 659.60,163.86 662.80,163.86"/><polygon points="663.61,154.31 662.01,157.11 665.21,157.11"/><polygon points="666.03,153.87 664.43,156.67 667.63,156.67"/><polygon points="668.44,152.54 666.84,155.34 670.04,155.34"/><polygon points="670.86,157.06 669.26,159.86 672.46,159.86"/><polygon points="673.27,157.76 671.67,160.56 674.87,160.56"/><polygon points="675.68,158.60 674.08,161.40 677.28,161.40"/><polygon points="678.10,163.11 676.50,165.91 679.70,165.91"/><polygon points="680.51,159.64 678.91,162.44 682.11,162.44"/><polygon points="682.92,159.20 681.32,162.00 684.52,162.00"/><polygon points="685.34,155.73 683.74,158.53 686.94,158.53"/><polygon points="687.75,158.55 686.15,161.35 689.35,161.35"/><polygon points="690.17,156.33 688.57,159.13 691.77,159.13"/><polygon points="692.58,158.96 690.98,161.76 694.18,161.76"/><polygon points="694.99,162.30 693.39,165.10 696.59,165.10"/><polygon points="697.41,158.83 695.81,161.63 699.01,161.63"/><polygon points="699.82,155.57 698.22,158.37 701.42,158.37"/><polygon points="702.23,152.54 700.63,155.34 703.83,155.34"/><polygon points="704.65,159.09 703.05,161.89 706.25,161.89"/><polygon points="707.06,154.78 705.46,157.58 708.66,157.58"/><polygon points="709.48,157.16 707.88,159.96 711.08,159.96"/><polygon points="711.89,159.87 710.29,162.67 713.49,162.67"/><polygon points="714.30,163.39 712.70,166.19 715.90,166.19"/><polygon points="716.72,159.53 715.12,162.33 718.32,162.33"/><polygon points="719.13,165.32 717.53,168.12 720.73,168.12"/><polygon points="721.54,159.59 719.94,162.39 723.14,162.39"/><polygon points="723.96,156.40 722.36,159.20 725.56,159.20"/><polygon points="726.37,161.66 724.77,164.46 727.97,164.46"/><polygon points="728.79,157.16 727.19,159.96 730.39,159.96"/><polygon points="731.20,159.31 729.60,162.11 732.80,162.11"/></g>
<path d="M521.20 170.46V179.03M519.90 170.46h2.6M519.90 179.03h2.6M523.61 170.25V178.22M522.31 170.25h2.6M522.31 178.22h2.6M526.03 171.13V178.02M524.73 171.13h2.6M524.73 178.02h2.6M528.44 167.40V177.34M527.14 167.40h2.6M527.14 177.34h2.6M530.86 164.69V171.38M529.56 164.69h2.6M529.56 171.38h2.6M533.27 170.84V179.07M531.97 170.84h2.6M531.97 179.07h2.6M535.68 171.33V177.93M534.38 171.33h2.6M534.38 177.93h2.6M538.10 173.96V180.51M536.80 173.96h2.6M536.80 180.51h2.6M540.51 170.38V179.32M539.21 170.38h2.6M539.21 179.32h2.6M542.92 167.86V177.58M541.62 167.86h2.6M541.62 177.58h2.6M545.34 171.54V179.52M544.04 171.54h2.6M544.04 179.52h2.6M547.75 170.05V179.38M546.45 170.05h2.6M546.45 179.38h2.6M550.17 175.78V185.38M548.87 175.78h2.6M548.87 185.38h2.6M552.58 171.92V180.20M551.28 171.92h2.6M551.28 180.20h2.6M554.99 174.15V183.41M553.69 174.15h2.6M553.69 183.41h2.6M557.41 169.16V176.46M556.11 169.16h2.6M556.11 176.46h2.6M559.82 171.78V178.50M558.52 171.78h2.6M558.52 178.50h2.6M562.23 171.83V178.70M560.93 171.83h2.6M560.93 178.70h2.6M564.65 174.90V181.04M563.35 174.90h2.6M563.35 181.04h2.6M567.06 173.61V180.00M565.76 173.61h2.6M565.76 180.00h2.6M569.48 172.51V181.67M568.18 172.51h2.6M568.18 181.67h2.6M571.89 174.93V184.71M570.59 174.93h2.6M570.59 184.71h2.6M574.30 177.40V183.74M573.00 177.40h2.6M573.00 183.74h2.6M576.72 175.35V184.39M575.42 175.35h2.6M575.42 184.39h2.6M579.13 174.55V183.82M577.83 174.55h2.6M577.83 183.82h2.6M581.54 172.89V181.77M580.24 172.89h2.6M580.24 181.77h2.6M583.96 169.88V178.02M582.66 169.88h2.6M582.66 178.02h2.6M586.37 166.66V174.74M585.07 166.66h2.6M585.07 174.74h2.6M588.79 156.18V165.11M587.49 156.18h2.6M587.49 165.11h2.6M591.20 156.53V163.63M589.90 156.53h2.6M589.90 163.63h2.6M593.61 144.60V153.76M592.31 144.60h2.6M592.31 153.76h2.6M596.03 143.83V150.72M594.73 143.83h2.6M594.73 150.72h2.6M598.44 149.06V155.30M597.14 149.06h2.6M597.14 155.30h2.6M600.86 156.68V166.58M599.56 156.68h2.6M599.56 166.58h2.6M603.27 164.59V171.07M601.97 164.59h2.6M601.97 171.07h2.6M605.68 178.32V185.23M604.38 178.32h2.6M604.38 185.23h2.6M608.10 184.30V190.63M606.80 184.30h2.6M606.80 190.63h2.6M610.51 180.79V186.94M609.21 180.79h2.6M609.21 186.94h2.6M612.92 176.91V183.52M611.62 176.91h2.6M611.62 183.52h2.6M615.34 170.20V180.05M614.04 170.20h2.6M614.04 180.05h2.6M617.75 173.14V182.08M616.45 173.14h2.6M616.45 182.08h2.6M620.17 177.23V184.99M618.87 177.23h2.6M618.87 184.99h2.6M622.58 175.70V181.84M621.28 175.70h2.6M621.28 181.84h2.6M624.99 174.40V183.87M623.69 174.40h2.6M623.69 183.87h2.6M627.41 170.45V178.53M626.11 170.45h2.6M626.11 178.53h2.6M629.82 166.69V176.27M628.52 166.69h2.6M628.52 176.27h2.6M632.23 168.65V176.81M630.93 168.65h2.6M630.93 176.81h2.6M634.65 174.13V180.55M633.35 174.13h2.6M633.35 180.55h2.6M637.06 171.48V177.89M635.76 171.48h2.6M635.76 177.89h2.6M639.48 168.96V178.28M638.18 168.96h2.6M638.18 178.28h2.6M641.89 173.04V180.05M640.59 173.04h2.6M640.59 180.05h2.6M644.30 171.93V178.64M643.00 171.93h2.6M643.00 178.64h2.6M646.72 170.78V178.55M645.42 170.78h2.6M645.42 178.55h2.6M649.13 175.31V182.48M647.83 175.31h2.6M647.83 182.48h2.6M651.54 172.28V179.51M650.24 172.28h2.6M650.24 179.51h2.6M653.96 172.42V181.75M652.66 172.42h2.6M652.66 181.75h2.6M656.37 177.01V185.03M655.07 177.01h2.6M655.07 185.03h2.6M658.79 176.93V187.09M657.49 176.93h2.6M657.49 187.09h2.6M661.20 176.72V183.23M659.90 176.72h2.6M659.90 183.23h2.6M663.61 171.44V178.74M662.31 171.44h2.6M662.31 178.74h2.6M666.03 172.86V182.56M664.73 172.86h2.6M664.73 182.56h2.6M668.44 172.01V179.88M667.14 172.01h2.6M667.14 179.88h2.6M670.86 170.70V179.93M669.56 170.70h2.6M669.56 179.93h2.6M673.27 177.16V185.03M671.97 177.16h2.6M671.97 185.03h2.6M675.68 180.98V188.73M674.38 180.98h2.6M674.38 188.73h2.6M678.10 180.70V190.41M676.80 180.70h2.6M676.80 190.41h2.6M680.51 178.43V185.81M679.21 178.43h2.6M679.21 185.81h2.6M682.92 176.88V185.21M681.62 176.88h2.6M681.62 185.21h2.6M685.34 180.98V189.38M684.04 180.98h2.6M684.04 189.38h2.6M687.75 184.22V190.50M686.45 184.22h2.6M686.45 190.50h2.6M690.17 181.83V188.34M688.87 181.83h2.6M688.87 188.34h2.6M692.58 181.92V188.99M691.28 181.92h2.6M691.28 188.99h2.6M694.99 180.52V186.64M693.69 180.52h2.6M693.69 186.64h2.6M697.41 175.91V184.80M696.11 175.91h2.6M696.11 184.80h2.6M699.82 173.28V181.74M698.52 173.28h2.6M698.52 181.74h2.6M702.23 175.97V183.47M700.93 175.97h2.6M700.93 183.47h2.6M704.65 175.72V183.53M703.35 175.72h2.6M703.35 183.53h2.6M707.06 181.25V187.52M705.76 181.25h2.6M705.76 187.52h2.6M709.48 181.50V189.23M708.18 181.50h2.6M708.18 189.23h2.6M711.89 178.11V187.63M710.59 178.11h2.6M710.59 187.63h2.6M714.30 179.54V185.79M713.00 179.54h2.6M713.00 185.79h2.6M716.72 178.93V187.69M715.42 178.93h2.6M715.42 187.69h2.6M719.13 178.80V187.72M717.83 178.80h2.6M717.83 187.72h2.6M721.54 177.84V184.84M720.24 177.84h2.6M720.24 184.84h2.6M723.96 176.15V183.46M722.66 176.15h2.6M722.66 183.46h2.6M726.37 180.87V187.71M725.07 180.87h2.6M725.07 187.71h2.6M728.79 176.69V185.10M727.49 176.69h2.6M727.49 185.10h2.6M731.20 174.33V181.93M729.90 174.33h2.6M729.90 181.93h2.6" stroke="#8a20f0" stroke-width="0.7" fill="none"/>
<g fill="none" stroke="#8a20f0" stroke-width="0.95"><rect x="519.95" y="173.50" width="2.5" height="2.5"/><rect x="522.36" y="172.99" width="2.5" height="2.5"/><rect x="524.78" y="173.33" width="2.5" height="2.5"/><rect x="527.19" y="171.12" width="2.5" height="2.5"/><rect x="529.61" y="166.79" width="2.5" height="2.5"/><rect x="532.02" y="173.70" width="2.5" height="2.5"/><rect x="534.43" y="173.38" width="2.5" height="2.5"/><rect x="536.85" y="175.99" width="2.5" height="2.5"/><rect x="539.26" y="173.60" width="2.5" height="2.5"/><rect x="541.67" y="171.47" width="2.5" height="2.5"/><rect x="544.09" y="174.28" width="2.5" height="2.5"/><rect x="546.50" y="173.46" width="2.5" height="2.5"/><rect x="548.92" y="179.33" width="2.5" height="2.5"/><rect x="551.33" y="174.81" width="2.5" height="2.5"/><rect x="553.74" y="177.53" width="2.5" height="2.5"/><rect x="556.16" y="171.56" width="2.5" height="2.5"/><rect x="558.57" y="173.89" width="2.5" height="2.5"/><rect x="560.98" y="174.01" width="2.5" height="2.5"/><rect x="563.40" y="176.72" width="2.5" height="2.5"/><rect x="565.81" y="175.55" width="2.5" height="2.5"/><rect x="568.23" y="175.84" width="2.5" height="2.5"/><rect x="570.64" y="178.57" width="2.5" height="2.5"/><rect x="573.05" y="179.32" width="2.5" height="2.5"/><rect x="575.47" y="178.62" width="2.5" height="2.5"/><rect x="577.88" y="177.93" width="2.5" height="2.5"/><rect x="580.29" y="176.08" width="2.5" height="2.5"/><rect x="582.71" y="172.70" width="2.5" height="2.5"/><rect x="585.12" y="169.45" width="2.5" height="2.5"/><rect x="587.54" y="159.40" width="2.5" height="2.5"/><rect x="589.95" y="158.83" width="2.5" height="2.5"/><rect x="592.36" y="147.93" width="2.5" height="2.5"/><rect x="594.78" y="146.02" width="2.5" height="2.5"/><rect x="597.19" y="150.93" width="2.5" height="2.5"/><rect x="599.61" y="160.38" width="2.5" height="2.5"/><rect x="602.02" y="166.58" width="2.5" height="2.5"/><rect x="604.43" y="180.52" width="2.5" height="2.5"/><rect x="606.85" y="186.21" width="2.5" height="2.5"/><rect x="609.26" y="182.61" width="2.5" height="2.5"/><rect x="611.67" y="178.96" width="2.5" height="2.5"/><rect x="614.09" y="173.87" width="2.5" height="2.5"/><rect x="616.50" y="176.36" width="2.5" height="2.5"/><rect x="618.92" y="179.86" width="2.5" height="2.5"/><rect x="621.33" y="177.52" width="2.5" height="2.5"/><rect x="623.74" y="177.89" width="2.5" height="2.5"/><rect x="626.16" y="173.24" width="2.5" height="2.5"/><rect x="628.57" y="170.23" width="2.5" height="2.5"/><rect x="630.98" y="171.48" width="2.5" height="2.5"/><rect x="633.40" y="176.09" width="2.5" height="2.5"/><rect x="635.81" y="173.44" width="2.5" height="2.5"/><rect x="638.23" y="172.37" width="2.5" height="2.5"/><rect x="640.64" y="175.30" width="2.5" height="2.5"/><rect x="643.05" y="174.03" width="2.5" height="2.5"/><rect x="645.47" y="173.42" width="2.5" height="2.5"/><rect x="647.88" y="177.64" width="2.5" height="2.5"/><rect x="650.29" y="174.65" width="2.5" height="2.5"/><rect x="652.71" y="175.84" width="2.5" height="2.5"/><rect x="655.12" y="179.77" width="2.5" height="2.5"/><rect x="657.54" y="180.76" width="2.5" height="2.5"/><rect x="659.95" y="178.73" width="2.5" height="2.5"/><rect x="662.36" y="173.84" width="2.5" height="2.5"/><rect x="664.78" y="176.46" width="2.5" height="2.5"/><rect x="667.19" y="174.69" width="2.5" height="2.5"/><rect x="669.61" y="174.07" width="2.5" height="2.5"/><rect x="672.02" y="179.84" width="2.5" height="2.5"/><rect x="674.43" y="183.60" width="2.5" height="2.5"/><rect x="676.85" y="184.31" width="2.5" height="2.5"/><rect x="679.26" y="180.87" width="2.5" height="2.5"/><rect x="681.67" y="179.79" width="2.5" height="2.5"/><rect x="684.09" y="183.93" width="2.5" height="2.5"/><rect x="686.50" y="186.11" width="2.5" height="2.5"/><rect x="688.92" y="183.83" width="2.5" height="2.5"/><rect x="691.33" y="184.20" width="2.5" height="2.5"/><rect x="693.74" y="182.33" width="2.5" height="2.5"/><rect x="696.16" y="179.10" width="2.5" height="2.5"/><rect x="698.57" y="176.26" width="2.5" height="2.5"/><rect x="700.98" y="178.47" width="2.5" height="2.5"/><rect x="703.40" y="178.37" width="2.5" height="2.5"/><rect x="705.81" y="183.13" width="2.5" height="2.5"/><rect x="708.23" y="184.11" width="2.5" height="2.5"/><rect x="710.64" y="181.62" width="2.5" height="2.5"/><rect x="713.05" y="181.41" width="2.5" height="2.5"/><rect x="715.47" y="182.06" width="2.5" height="2.5"/><rect x="717.88" y="182.01" width="2.5" height="2.5"/><rect x="720.29" y="180.09" width="2.5" height="2.5"/><rect x="722.71" y="178.55" width="2.5" height="2.5"/><rect x="725.12" y="183.04" width="2.5" height="2.5"/><rect x="727.54" y="179.64" width="2.5" height="2.5"/><rect x="729.95" y="176.88" width="2.5" height="2.5"/></g>
<path d="M521.20 190.67V198.74M519.90 190.67h2.6M519.90 198.74h2.6M523.61 203.02V211.30M522.31 203.02h2.6M522.31 211.30h2.6M526.03 194.82V202.82M524.73 194.82h2.6M524.73 202.82h2.6M528.44 198.12V205.75M527.14 198.12h2.6M527.14 205.75h2.6M530.86 195.27V204.43M529.56 195.27h2.6M529.56 204.43h2.6M533.27 198.88V206.58M531.97 198.88h2.6M531.97 206.58h2.6M535.68 196.03V202.87M534.38 196.03h2.6M534.38 202.87h2.6M538.10 197.83V207.14M536.80 197.83h2.6M536.80 207.14h2.6M540.51 198.76V206.49M539.21 198.76h2.6M539.21 206.49h2.6M542.92 194.70V203.16M541.62 194.70h2.6M541.62 203.16h2.6M545.34 194.26V204.36M544.04 194.26h2.6M544.04 204.36h2.6M547.75 198.35V207.09M546.45 198.35h2.6M546.45 207.09h2.6M550.17 199.93V208.17M548.87 199.93h2.6M548.87 208.17h2.6M552.58 199.43V206.69M551.28 199.43h2.6M551.28 206.69h2.6M554.99 198.86V207.85M553.69 198.86h2.6M553.69 207.85h2.6M557.41 201.39V211.41M556.11 201.39h2.6M556.11 211.41h2.6M559.82 201.87V210.86M558.52 201.87h2.6M558.52 210.86h2.6M562.23 205.35V214.59M560.93 205.35h2.6M560.93 214.59h2.6M564.65 198.68V206.07M563.35 198.68h2.6M563.35 206.07h2.6M567.06 203.71V211.09M565.76 203.71h2.6M565.76 211.09h2.6M569.48 200.59V208.15M568.18 200.59h2.6M568.18 208.15h2.6M571.89 202.36V210.42M570.59 202.36h2.6M570.59 210.42h2.6M574.30 197.85V207.59M573.00 197.85h2.6M573.00 207.59h2.6M576.72 199.54V207.55M575.42 199.54h2.6M575.42 207.55h2.6M579.13 202.85V209.67M577.83 202.85h2.6M577.83 209.67h2.6M581.54 198.90V207.17M580.24 198.90h2.6M580.24 207.17h2.6M583.96 203.05V210.21M582.66 203.05h2.6M582.66 210.21h2.6M586.37 192.76V201.45M585.07 192.76h2.6M585.07 201.45h2.6M588.79 192.81V200.30M587.49 192.81h2.6M587.49 200.30h2.6M591.20 183.38V193.36M589.90 183.38h2.6M589.90 193.36h2.6M593.61 178.81V186.69M592.31 178.81h2.6M592.31 186.69h2.6M596.03 181.29V189.77M594.73 181.29h2.6M594.73 189.77h2.6M598.44 187.39V195.87M597.14 187.39h2.6M597.14 195.87h2.6M600.86 194.54V202.33M599.56 194.54h2.6M599.56 202.33h2.6M603.27 199.66V209.75M601.97 199.66h2.6M601.97 209.75h2.6M605.68 208.76V215.04M604.38 208.76h2.6M604.38 215.04h2.6M608.10 204.77V213.90M606.80 204.77h2.6M606.80 213.90h2.6M610.51 206.23V213.41M609.21 206.23h2.6M609.21 213.41h2.6M612.92 211.34V217.69M611.62 211.34h2.6M611.62 217.69h2.6M615.34 206.22V213.06M614.04 206.22h2.6M614.04 213.06h2.6M617.75 209.16V218.32M616.45 209.16h2.6M616.45 218.32h2.6M620.17 205.72V215.53M618.87 205.72h2.6M618.87 215.53h2.6M622.58 204.43V213.69M621.28 204.43h2.6M621.28 213.69h2.6M624.99 199.95V207.21M623.69 199.95h2.6M623.69 207.21h2.6M627.41 199.06V207.18M626.11 199.06h2.6M626.11 207.18h2.6M629.82 198.38V204.97M628.52 198.38h2.6M628.52 204.97h2.6M632.23 197.35V205.16M630.93 197.35h2.6M630.93 205.16h2.6M634.65 200.73V207.88M633.35 200.73h2.6M633.35 207.88h2.6M637.06 199.20V205.43M635.76 199.20h2.6M635.76 205.43h2.6M639.48 196.82V204.10M638.18 196.82h2.6M638.18 204.10h2.6M641.89 198.81V208.69M640.59 198.81h2.6M640.59 208.69h2.6M644.30 197.98V206.25M643.00 197.98h2.6M643.00 206.25h2.6M646.72 200.20V207.42M645.42 200.20h2.6M645.42 207.42h2.6M649.13 198.42V204.98M647.83 198.42h2.6M647.83 204.98h2.6M651.54 198.39V208.15M650.24 198.39h2.6M650.24 208.15h2.6M653.96 201.97V208.45M652.66 201.97h2.6M652.66 208.45h2.6M656.37 205.73V211.99M655.07 205.73h2.6M655.07 211.99h2.6M658.79 203.62V210.18M657.49 203.62h2.6M657.49 210.18h2.6M661.20 204.85V214.02M659.90 204.85h2.6M659.90 214.02h2.6M663.61 202.30V212.20M662.31 202.30h2.6M662.31 212.20h2.6M666.03 202.48V208.97M664.73 202.48h2.6M664.73 208.97h2.6M668.44 196.77V205.47M667.14 196.77h2.6M667.14 205.47h2.6M670.86 200.55V209.31M669.56 200.55h2.6M669.56 209.31h2.6M673.27 201.80V210.05M671.97 201.80h2.6M671.97 210.05h2.6M675.68 200.62V206.74M674.38 200.62h2.6M674.38 206.74h2.6M678.10 199.15V208.08M676.80 199.15h2.6M676.80 208.08h2.6M680.51 201.82V209.68M679.21 201.82h2.6M679.21 209.68h2.6M682.92 209.12V219.02M681.62 209.12h2.6M681.62 219.02h2.6M685.34 205.71V215.87M684.04 205.71h2.6M684.04 215.87h2.6M687.75 207.19V215.89M686.45 207.19h2.6M686.45 215.89h2.6M690.17 207.10V213.68M688.87 207.10h2.6M688.87 213.68h2.6M692.58 203.37V210.77M691.28 203.37h2.6M691.28 210.77h2.6M694.99 198.00V206.67M693.69 198.00h2.6M693.69 206.67h2.6M697.41 203.36V213.01M696.11 203.36h2.6M696.11 213.01h2.6M699.82 204.77V212.59M698.52 204.77h2.6M698.52 212.59h2.6M702.23 198.32V205.90M700.93 198.32h2.6M700.93 205.90h2.6M704.65 198.91V207.49M703.35 198.91h2.6M703.35 207.49h2.6M707.06 199.81V209.40M705.76 199.81h2.6M705.76 209.40h2.6M709.48 204.56V211.46M708.18 204.56h2.6M708.18 211.46h2.6M711.89 203.68V212.21M710.59 203.68h2.6M710.59 212.21h2.6M714.30 203.71V212.32M713.00 203.71h2.6M713.00 212.32h2.6M716.72 210.16V218.20M715.42 210.16h2.6M715.42 218.20h2.6M719.13 209.92V217.49M717.83 209.92h2.6M717.83 217.49h2.6M721.54 200.97V210.93M720.24 200.97h2.6M720.24 210.93h2.6M723.96 200.31V209.74M722.66 200.31h2.6M722.66 209.74h2.6M726.37 203.30V210.04M725.07 203.30h2.6M725.07 210.04h2.6M728.79 203.99V210.10M727.49 203.99h2.6M727.49 210.10h2.6M731.20 201.53V208.68M729.90 201.53h2.6M729.90 208.68h2.6" stroke="#3088c8" stroke-width="0.7" fill="none"/>
<g fill="none" stroke="#3088c8" stroke-width="0.95"><circle cx="521.20" cy="194.71" r="1.35"/><circle cx="523.61" cy="207.16" r="1.35"/><circle cx="526.03" cy="198.82" r="1.35"/><circle cx="528.44" cy="201.93" r="1.35"/><circle cx="530.86" cy="199.85" r="1.35"/><circle cx="533.27" cy="202.73" r="1.35"/><circle cx="535.68" cy="199.45" r="1.35"/><circle cx="538.10" cy="202.49" r="1.35"/><circle cx="540.51" cy="202.62" r="1.35"/><circle cx="542.92" cy="198.93" r="1.35"/><circle cx="545.34" cy="199.31" r="1.35"/><circle cx="547.75" cy="202.72" r="1.35"/><circle cx="550.17" cy="204.05" r="1.35"/><circle cx="552.58" cy="203.06" r="1.35"/><circle cx="554.99" cy="203.35" r="1.35"/><circle cx="557.41" cy="206.40" r="1.35"/><circle cx="559.82" cy="206.37" r="1.35"/><circle cx="562.23" cy="209.97" r="1.35"/><circle cx="564.65" cy="202.38" r="1.35"/><circle cx="567.06" cy="207.40" r="1.35"/><circle cx="569.48" cy="204.37" r="1.35"/><circle cx="571.89" cy="206.39" r="1.35"/><circle cx="574.30" cy="202.72" r="1.35"/><circle cx="576.72" cy="203.54" r="1.35"/><circle cx="579.13" cy="206.26" r="1.35"/><circle cx="581.54" cy="203.04" r="1.35"/><circle cx="583.96" cy="206.63" r="1.35"/><circle cx="586.37" cy="197.10" r="1.35"/><circle cx="588.79" cy="196.55" r="1.35"/><circle cx="591.20" cy="188.37" r="1.35"/><circle cx="593.61" cy="182.75" r="1.35"/><circle cx="596.03" cy="185.53" r="1.35"/><circle cx="598.44" cy="191.63" r="1.35"/><circle cx="600.86" cy="198.43" r="1.35"/><circle cx="603.27" cy="204.71" r="1.35"/><circle cx="605.68" cy="211.90" r="1.35"/><circle cx="608.10" cy="209.33" r="1.35"/><circle cx="610.51" cy="209.82" r="1.35"/><circle cx="612.92" cy="214.51" r="1.35"/><circle cx="615.34" cy="209.64" r="1.35"/><circle cx="617.75" cy="213.74" r="1.35"/><circle cx="620.17" cy="210.62" r="1.35"/><circle cx="622.58" cy="209.06" r="1.35"/><circle cx="624.99" cy="203.58" r="1.35"/><circle cx="627.41" cy="203.12" r="1.35"/><circle cx="629.82" cy="201.67" r="1.35"/><circle cx="632.23" cy="201.26" r="1.35"/><circle cx="634.65" cy="204.30" r="1.35"/><circle cx="637.06" cy="202.32" r="1.35"/><circle cx="639.48" cy="200.46" r="1.35"/><circle cx="641.89" cy="203.75" r="1.35"/><circle cx="644.30" cy="202.12" r="1.35"/><circle cx="646.72" cy="203.81" r="1.35"/><circle cx="649.13" cy="201.70" r="1.35"/><circle cx="651.54" cy="203.27" r="1.35"/><circle cx="653.96" cy="205.21" r="1.35"/><circle cx="656.37" cy="208.86" r="1.35"/><circle cx="658.79" cy="206.90" r="1.35"/><circle cx="661.20" cy="209.43" r="1.35"/><circle cx="663.61" cy="207.25" r="1.35"/><circle cx="666.03" cy="205.73" r="1.35"/><circle cx="668.44" cy="201.12" r="1.35"/><circle cx="670.86" cy="204.93" r="1.35"/><circle cx="673.27" cy="205.93" r="1.35"/><circle cx="675.68" cy="203.68" r="1.35"/><circle cx="678.10" cy="203.61" r="1.35"/><circle cx="680.51" cy="205.75" r="1.35"/><circle cx="682.92" cy="214.07" r="1.35"/><circle cx="685.34" cy="210.79" r="1.35"/><circle cx="687.75" cy="211.54" r="1.35"/><circle cx="690.17" cy="210.39" r="1.35"/><circle cx="692.58" cy="207.07" r="1.35"/><circle cx="694.99" cy="202.34" r="1.35"/><circle cx="697.41" cy="208.18" r="1.35"/><circle cx="699.82" cy="208.68" r="1.35"/><circle cx="702.23" cy="202.11" r="1.35"/><circle cx="704.65" cy="203.20" r="1.35"/><circle cx="707.06" cy="204.61" r="1.35"/><circle cx="709.48" cy="208.01" r="1.35"/><circle cx="711.89" cy="207.95" r="1.35"/><circle cx="714.30" cy="208.02" r="1.35"/><circle cx="716.72" cy="214.18" r="1.35"/><circle cx="719.13" cy="213.71" r="1.35"/><circle cx="721.54" cy="205.95" r="1.35"/><circle cx="723.96" cy="205.02" r="1.35"/><circle cx="726.37" cy="206.67" r="1.35"/><circle cx="728.79" cy="207.04" r="1.35"/><circle cx="731.20" cy="205.10" r="1.35"/></g>
<path d="M521.20 48.8v3M521.20 223.2v-3M528.20 48.8v1.5M528.20 223.2v-1.5M535.20 48.8v1.5M535.20 223.2v-1.5M542.20 48.8v1.5M542.20 223.2v-1.5M549.20 48.8v1.5M549.20 223.2v-1.5M556.20 48.8v3M556.20 223.2v-3M563.20 48.8v1.5M563.20 223.2v-1.5M570.20 48.8v1.5M570.20 223.2v-1.5M577.20 48.8v1.5M577.20 223.2v-1.5M584.20 48.8v1.5M584.20 223.2v-1.5M591.20 48.8v3M591.20 223.2v-3M598.20 48.8v1.5M598.20 223.2v-1.5M605.20 48.8v1.5M605.20 223.2v-1.5M612.20 48.8v1.5M612.20 223.2v-1.5M619.20 48.8v1.5M619.20 223.2v-1.5M626.20 48.8v3M626.20 223.2v-3M633.20 48.8v1.5M633.20 223.2v-1.5M640.20 48.8v1.5M640.20 223.2v-1.5M647.20 48.8v1.5M647.20 223.2v-1.5M654.20 48.8v1.5M654.20 223.2v-1.5M661.20 48.8v3M661.20 223.2v-3M668.20 48.8v1.5M668.20 223.2v-1.5M675.20 48.8v1.5M675.20 223.2v-1.5M682.20 48.8v1.5M682.20 223.2v-1.5M689.20 48.8v1.5M689.20 223.2v-1.5M696.20 48.8v3M696.20 223.2v-3M703.20 48.8v1.5M703.20 223.2v-1.5M710.20 48.8v1.5M710.20 223.2v-1.5M717.20 48.8v1.5M717.20 223.2v-1.5M724.20 48.8v1.5M724.20 223.2v-1.5M731.20 48.8v3M731.20 223.2v-3M521.2 223.18h1.5M731.2 223.18h-1.5M521.2 213.49h1.5M731.2 213.49h-1.5M521.2 203.80h3M731.2 203.80h-3M521.2 194.11h1.5M731.2 194.11h-1.5M521.2 184.42h1.5M731.2 184.42h-1.5M521.2 174.73h1.5M731.2 174.73h-1.5M521.2 165.04h3M731.2 165.04h-3M521.2 155.35h1.5M731.2 155.35h-1.5M521.2 145.66h1.5M731.2 145.66h-1.5M521.2 135.97h1.5M731.2 135.97h-1.5M521.2 126.28h3M731.2 126.28h-3M521.2 116.59h1.5M731.2 116.59h-1.5M521.2 106.90h1.5M731.2 106.90h-1.5M521.2 97.21h1.5M731.2 97.21h-1.5M521.2 87.52h3M731.2 87.52h-3M521.2 77.83h1.5M731.2 77.83h-1.5M521.2 68.14h1.5M731.2 68.14h-1.5M521.2 58.45h1.5M731.2 58.45h-1.5M521.2 48.76h3M731.2 48.76h-3" stroke="#4a4a4a" stroke-width="0.6" fill="none"/>
<rect x="521.2" y="48.8" width="210.0" height="174.4" fill="none" stroke="#4a4a4a" stroke-width="1"/>
<text x="517.6" y="52.16" font-size="12" text-anchor="end" fill="#222" >16</text>
<text x="517.6" y="90.92" font-size="12" text-anchor="end" fill="#222" >12</text>
<text x="517.6" y="129.68" font-size="12" text-anchor="end" fill="#222" >8</text>
<text x="517.6" y="168.44" font-size="12" text-anchor="end" fill="#222" >4</text>
<text x="517.6" y="207.2" font-size="12" text-anchor="end" fill="#222" >0</text>
<text x="521.2" y="235.8" font-size="12" text-anchor="middle" fill="#222" >0</text>
<text x="556.2" y="235.8" font-size="12" text-anchor="middle" fill="#222" >1</text>
<text x="591.2" y="235.8" font-size="12" text-anchor="middle" fill="#222" >2</text>
<text x="626.2" y="235.8" font-size="12" text-anchor="middle" fill="#222" >3</text>
<text x="661.2" y="235.8" font-size="12" text-anchor="middle" fill="#222" >4</text>
<text x="696.2" y="235.8" font-size="12" text-anchor="middle" fill="#222" >5</text>
<text x="731.2" y="235.8" font-size="12" text-anchor="middle" fill="#222" >6</text>
<text x="627.7" y="250" font-size="13" text-anchor="middle" fill="#222" textLength="100" lengthAdjust="spacingAndGlyphs" >Time Delay (ps)</text>
<text x="501.5" y="134.4" font-size="12.5" text-anchor="middle" fill="#222" textLength="117" lengthAdjust="spacingAndGlyphs" transform="rotate(-90 501.5 134.4)">(I<tspan font-size="7.75" dy="2.75">t</tspan><tspan dy="-2.75">-I</tspan><tspan font-size="7.75" dy="2.75">t&lt;0</tspan><tspan dy="-2.75">)/I</tspan><tspan font-size="7.75" dy="2.75">t&lt;0</tspan><tspan dy="-2.75"> (percent)</tspan></text>
<polygon points="532.1,54 529.4,58.3 534.8,58.3" fill="none" stroke="#e82020" stroke-width="1.3"/>
<text x="540.8" y="60.0" font-size="11.5" text-anchor="start" fill="#222" textLength="54.2" lengthAdjust="spacingAndGlyphs" >900 kV/cm</text>
<rect x="529.8" y="69.4" width="5" height="5" fill="none" stroke="#8a2be2" stroke-width="1.4"/>
<text x="540.5" y="76" font-size="11.5" text-anchor="start" fill="#222" textLength="54.2" lengthAdjust="spacingAndGlyphs" >600 kV/cm</text>
<circle cx="532.3" cy="87.6" r="2.9" fill="none" stroke="#2a7ab8" stroke-width="1.3"/>
<text x="540.5" y="91.5" font-size="11.5" text-anchor="start" fill="#222" textLength="54.2" lengthAdjust="spacingAndGlyphs" >350 kV/cm</text>
<rect x="648.5" y="53.3" width="78.9" height="78.4" fill="#fff" stroke="#4a4a4a" stroke-width="1"/>
<path d="M648.50 131.7v-2M648.50 53.3v2M652.40 131.7v-1M652.40 53.3v1M656.30 131.7v-1M656.30 53.3v1M660.20 131.7v-1M660.20 53.3v1M664.10 131.7v-1M664.10 53.3v1M668.00 131.7v-2M668.00 53.3v2M671.90 131.7v-1M671.90 53.3v1M675.80 131.7v-1M675.80 53.3v1M679.70 131.7v-1M679.70 53.3v1M683.60 131.7v-1M683.60 53.3v1M687.50 131.7v-2M687.50 53.3v2M691.40 131.7v-1M691.40 53.3v1M695.30 131.7v-1M695.30 53.3v1M699.20 131.7v-1M699.20 53.3v1M703.10 131.7v-1M703.10 53.3v1M707.00 131.7v-2M707.00 53.3v2M710.90 131.7v-1M710.90 53.3v1M714.80 131.7v-1M714.80 53.3v1M718.70 131.7v-1M718.70 53.3v1M722.60 131.7v-1M722.60 53.3v1M726.50 131.7v-2M726.50 53.3v2M648.5 131.70h2M727.4 131.70h-2M648.5 125.16h1M727.4 125.16h-1M648.5 118.63h2M727.4 118.63h-2M648.5 112.09h1M727.4 112.09h-1M648.5 105.56h2M727.4 105.56h-2M648.5 99.02h1M727.4 99.02h-1M648.5 92.49h2M727.4 92.49h-2M648.5 85.95h1M727.4 85.95h-1M648.5 79.42h2M727.4 79.42h-2M648.5 72.88h1M727.4 72.88h-1M648.5 66.35h2M727.4 66.35h-2M648.5 59.81h1M727.4 59.81h-1M648.5 53.28h2M727.4 53.28h-2" stroke="#4a4a4a" stroke-width="0.5" fill="none"/>
<text x="646.8" y="134.4" font-size="7.8" text-anchor="end" fill="#2a2a2a" >0</text>
<text x="646.8" y="121.33" font-size="7.8" text-anchor="end" fill="#2a2a2a" >1</text>
<text x="646.8" y="108.26" font-size="7.8" text-anchor="end" fill="#2a2a2a" >2</text>
<text x="646.8" y="95.19" font-size="7.8" text-anchor="end" fill="#2a2a2a" >3</text>
<text x="646.8" y="82.12" font-size="7.8" text-anchor="end" fill="#2a2a2a" >4</text>
<text x="646.8" y="69.05" font-size="7.8" text-anchor="end" fill="#2a2a2a" >5</text>
<text x="646.8" y="55.98" font-size="7.8" text-anchor="end" fill="#2a2a2a" >6</text>
<text x="648.5" y="139.8" font-size="7.8" text-anchor="middle" fill="#2a2a2a" >0</text>
<text x="668.0" y="139.8" font-size="7.8" text-anchor="middle" fill="#2a2a2a" textLength="15" lengthAdjust="spacingAndGlyphs" >0.25</text>
<text x="687.5" y="139.8" font-size="7.8" text-anchor="middle" fill="#2a2a2a" textLength="10" lengthAdjust="spacingAndGlyphs" >0.5</text>
<text x="707.0" y="139.8" font-size="7.8" text-anchor="middle" fill="#2a2a2a" textLength="15" lengthAdjust="spacingAndGlyphs" >0.75</text>
<text x="726.5" y="139.8" font-size="7.8" text-anchor="middle" fill="#2a2a2a" >1</text>
<text x="689.2" y="148" font-size="7.8" text-anchor="middle" fill="#2a2a2a" textLength="80" lengthAdjust="spacingAndGlyphs" >Peak E-Field (MV/cm)</text>
<text x="638.5" y="91.8" font-size="7.5" text-anchor="middle" fill="#2a2a2a" textLength="82" lengthAdjust="spacingAndGlyphs" transform="rotate(-90 638.5 91.8)">Peak (I<tspan font-size="4.65" dy="1.65">t</tspan><tspan dy="-1.65">-I</tspan><tspan font-size="4.65" dy="1.65">t&lt;0</tspan><tspan dy="-1.65">)/I</tspan><tspan font-size="4.65" dy="1.65">t&lt;0</tspan><tspan dy="-1.65"> (percent)</tspan></text>
<line x1="648.5" y1="131.7" x2="727.4" y2="62.43" stroke="#e05050" stroke-width="1.15"/>
<path d="M672.35 105.56h8M676.35 101.06v9" stroke="#111" stroke-width="0.9"/>
<circle cx="676.35" cy="105.56" r="1.6" fill="#111"/>
<path d="M691.30 90.53h8M695.30 86.03v9" stroke="#111" stroke-width="0.9"/>
<circle cx="695.30" cy="90.53" r="1.6" fill="#111"/>
<path d="M714.70 70.92h8M718.70 66.42v9" stroke="#111" stroke-width="0.9"/>
<circle cx="718.70" cy="70.92" r="1.6" fill="#111"/>
<circle cx="685" cy="118.6" r="1.3" fill="#111"/>
<text x="689" y="121.3" font-size="8.2" text-anchor="start" fill="#2a2a2a" textLength="17.5" lengthAdjust="spacingAndGlyphs" >Data</text>
<line x1="683" y1="124.7" x2="688" y2="124.7" stroke="#e05050" stroke-width="0.9"/>
<text x="689" y="127.4" font-size="8.2" text-anchor="start" fill="#2a2a2a" textLength="33.7" lengthAdjust="spacingAndGlyphs" >Linear Fit</text>
</svg></body></html>
